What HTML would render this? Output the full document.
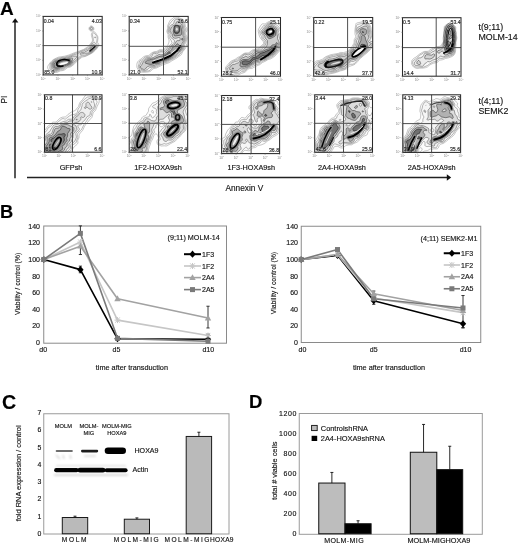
<!DOCTYPE html>
<html><head><meta charset="utf-8"><style>
html,body{margin:0;padding:0;background:#fff;}
body{width:520px;height:544px;overflow:hidden;position:relative;}
svg{position:absolute;left:0;top:0;display:block;will-change:transform;}
text{font-family:"Liberation Sans",sans-serif;stroke:#1a1a1a;stroke-width:0.15px;}
</style></head><body>
<svg width="520" height="544" viewBox="0 0 520 544" font-family="Liberation Sans, sans-serif">
<defs>
<filter id="blur1" x="-50%" y="-50%" width="200%" height="200%"><feGaussianBlur stdDeviation="1"/></filter>
<filter id="blur2" x="-50%" y="-50%" width="200%" height="200%"><feGaussianBlur stdDeviation="2"/></filter>
<filter id="blur05" x="-50%" y="-50%" width="200%" height="200%"><feGaussianBlur stdDeviation="0.5"/></filter>
</defs>
<rect width="520" height="544" fill="#fff"/>
<g id="panelA">
<text x="0.10" y="14.60" font-size="19" text-anchor="start" fill="#000" font-weight="bold" >A</text>
<line x1="15" y1="21.5" x2="15" y2="178.3" stroke="#222" stroke-width="1.5"/>
<polygon points="15.2,18.3 12,22.6 18.4,22.6" fill="#111"/>
<line x1="27" y1="177.5" x2="447.5" y2="177.5" stroke="#222" stroke-width="1.5"/>
<polygon points="451.2,177.4 446.8,174.3 446.8,180.7" fill="#111"/>
<text transform="translate(6.7,99.5) rotate(-90)" font-size="8.3" text-anchor="middle" fill="#111">PI</text>
<text x="244.30" y="191.30" font-size="8.3" text-anchor="middle" fill="#111" font-weight="normal" >Annexin V</text>
<text x="478.50" y="29.80" font-size="8.8" text-anchor="start" fill="#111" font-weight="normal" >t(9;11)</text>
<text x="478.50" y="39.60" font-size="8.8" text-anchor="start" fill="#111" font-weight="normal" >MOLM-14</text>
<text x="478.50" y="104.00" font-size="8.8" text-anchor="start" fill="#111" font-weight="normal" >t(4;11)</text>
<text x="478.50" y="114.00" font-size="8.8" text-anchor="start" fill="#111" font-weight="normal" >SEMK2</text>
<text x="71.00" y="170.30" font-size="7.3" text-anchor="middle" fill="#111" font-weight="normal" >GFPsh</text>
<text x="158.00" y="170.30" font-size="7.3" text-anchor="middle" fill="#111" font-weight="normal" >1F2-HOXA9sh</text>
<text x="251.30" y="170.30" font-size="7.3" text-anchor="middle" fill="#111" font-weight="normal" >1F3-HOXA9sh</text>
<text x="342.00" y="170.30" font-size="7.3" text-anchor="middle" fill="#111" font-weight="normal" >2A4-HOXA9sh</text>
<text x="431.70" y="170.30" font-size="7.3" text-anchor="middle" fill="#111" font-weight="normal" >2A5-HOXA9sh</text>
<clipPath id="cp0"><rect x="43.2" y="16.4" width="59" height="58.5"/></clipPath>
<g clip-path="url(#cp0)">
<path d="M90.4 26.2 91.0 26.0 91.8 26.0 92.6 26.4 93.5 27.4 93.9 28.6 93.8 29.4 93.4 30.3 92.6 31.0 91.8 31.1 90.6 30.9 89.8 30.4 89.3 29.8 89.0 29.0 89.1 27.8 89.5 27.0 90.4 26.2ZM92.8 31.8 93.4 31.7 94.2 31.8 95.4 32.6 97.7 36.2 98.0 38.2 97.5 42.2 97.8 42.9 98.7 43.8 98.9 44.6 98.4 46.2 97.2 48.2 95.4 50.2 93.4 52.1 91.4 53.5 85.8 56.3 82.7 57.0 81.8 57.4 77.5 60.6 74.6 63.8 71.4 66.5 69.8 67.2 68.2 67.4 67.2 67.8 65.4 69.4 64.2 70.1 63.0 70.5 60.2 70.9 57.4 72.3 55.8 72.5 53.0 72.0 51.4 71.5 49.8 70.6 48.4 69.4 47.9 68.6 47.6 67.8 47.7 66.6 48.0 65.8 50.2 62.6 52.2 60.5 53.4 59.5 56.6 57.9 58.6 57.1 64.6 56.2 68.9 55.0 71.4 53.9 75.4 52.4 77.8 51.7 83.4 49.5 87.4 47.0 89.8 44.7 92.2 41.4 92.5 40.2 92.4 39.0 91.4 35.4 91.4 34.6 91.8 33.0 92.8 31.8Z" fill="#fcfcfc" fill-rule="evenodd" stroke="#989898" stroke-width="0.55"/>
<path d="M90.9 26.6 91.4 26.5 92.2 26.8 93.1 27.8 93.3 28.6 93.1 29.4 92.6 30.1 92.2 30.3 91.4 30.4 90.6 30.2 90.0 29.8 89.6 29.0 89.6 28.2 89.9 27.4 90.9 26.6ZM93.3 33.0 93.8 33.0 94.6 33.4 96.6 35.8 97.0 36.6 97.2 38.2 96.6 42.6 96.8 43.4 97.9 44.6 98.1 45.4 97.7 46.6 96.7 48.2 93.4 51.6 91.0 53.3 85.8 55.7 84.6 56.0 82.2 56.2 81.4 56.6 79.4 58.4 77.0 60.0 74.0 63.4 71.4 65.6 69.8 66.3 66.9 67.0 63.8 69.3 62.6 69.7 60.6 69.8 57.4 71.3 55.8 71.7 54.6 71.6 52.6 71.1 51.4 70.6 50.5 69.8 50.0 69.0 49.8 67.8 50.1 64.2 50.7 63.0 51.7 61.8 53.8 59.9 56.2 58.8 58.6 58.0 64.7 57.0 69.1 55.8 75.8 53.0 78.2 52.3 81.0 50.9 83.4 50.1 87.8 47.8 89.8 45.6 92.5 42.2 93.3 41.0 93.4 39.4 92.3 34.6 92.6 33.6 93.3 33.0Z" fill="#f9f9f9" fill-rule="evenodd" stroke="#858585" stroke-width="0.55"/>
<path d="M91.0 27.4 91.8 27.4 92.4 28.2 92.3 29.0 91.8 29.5 91.0 29.4 90.5 29.0 90.4 28.2 91.0 27.4ZM94.6 37.0 95.0 36.7 95.4 36.9 95.5 37.4 95.4 37.9 94.9 37.8 94.6 37.4 94.6 37.0ZM93.6 42.6 94.2 42.3 94.6 42.4 94.9 42.6 95.5 43.8 97.0 45.2 97.2 46.2 96.9 47.0 96.1 48.2 93.8 50.6 91.8 52.3 90.2 53.1 85.8 54.9 84.6 55.1 82.6 55.1 81.4 55.5 80.4 56.2 78.7 57.8 76.4 59.4 72.9 63.4 71.4 64.8 69.8 65.6 67.4 66.1 66.2 66.6 63.4 68.5 60.6 68.9 57.8 70.3 55.8 70.8 54.6 70.8 53.0 70.4 52.2 70.0 51.5 69.4 51.1 68.2 51.1 63.8 52.1 62.2 54.2 60.4 56.2 59.5 61.8 58.1 66.6 57.4 69.1 56.6 72.2 55.3 77.8 53.6 81.0 51.6 83.8 50.8 87.9 49.0 89.0 48.0 91.8 44.1 93.6 42.6Z" fill="#efefef" fill-rule="evenodd" stroke="#6f6f6f" stroke-width="0.55"/>
<path d="M93.2 44.6 94.6 44.8 95.8 45.4 96.2 45.8 96.3 46.6 95.7 47.8 93.6 50.2 92.2 51.4 90.6 52.3 87.4 53.3 84.2 53.3 82.6 53.6 80.6 54.4 80.2 54.4 79.9 54.2 80.2 53.4 81.4 52.6 84.6 52.1 88.2 50.1 89.4 49.0 91.8 45.5 92.6 44.8 93.2 44.6ZM72.3 56.2 76.2 56.1 77.0 56.5 77.1 57.0 73.8 60.4 72.0 63.4 70.6 64.5 66.6 65.8 63.0 67.5 60.6 68.0 58.6 69.2 57.4 69.7 55.8 70.0 54.6 70.0 53.1 69.4 52.4 68.6 52.1 67.8 51.9 63.8 52.6 62.5 54.2 61.1 55.8 60.4 58.6 59.8 61.8 58.8 67.0 58.2 69.4 57.4 72.3 56.2Z" fill="#dddddd" fill-rule="evenodd" stroke="#585858" stroke-width="0.55"/>
<path d="M92.9 46.2 93.8 46.0 94.8 46.2 95.1 46.6 94.9 47.4 93.1 49.8 92.2 50.7 91.0 51.3 89.6 51.4 89.4 51.0 89.5 50.6 91.2 47.8 92.2 46.6 92.9 46.2ZM70.5 58.2 72.2 57.9 72.5 58.2 72.6 58.6 71.9 62.2 71.1 63.4 70.2 64.0 60.2 67.3 58.2 68.6 57.4 68.9 55.0 69.0 54.2 68.8 53.5 68.2 53.1 67.0 52.7 63.8 53.4 62.6 54.6 61.7 56.2 61.1 62.2 59.4 63.4 59.2 66.2 59.2 70.5 58.2Z" fill="#c2c2c2" fill-rule="evenodd" stroke="#404040" stroke-width="0.55"/>
<path d="M68.2 59.8 69.4 59.5 70.2 59.6 71.0 60.2 71.2 61.0 71.0 62.2 70.6 62.8 69.8 63.4 67.8 64.0 65.8 64.8 63.1 65.4 60.9 66.2 59.8 66.6 57.4 68.0 55.4 67.9 54.6 67.5 54.3 67.0 53.9 64.6 53.9 63.8 54.5 63.0 55.4 62.4 57.4 61.6 62.6 60.1 63.8 60.0 66.6 60.2 68.2 59.8Z" fill="#9e9e9e" fill-rule="evenodd" stroke="#282828" stroke-width="0.55"/>
<path d="M68.5 61.0 69.4 60.8 69.8 61.0 70.0 61.4 69.8 62.1 69.0 62.5 67.8 62.7 65.8 64.0 65.0 64.2 62.6 64.2 60.6 65.3 57.8 66.3 57.0 66.3 56.6 65.8 56.4 64.2 56.6 63.4 57.4 62.6 58.6 62.0 59.8 61.7 62.2 61.5 63.8 61.1 67.4 61.6 68.5 61.0Z" fill="#707070" fill-rule="evenodd" stroke="#101010" stroke-width="0.55"/>
<ellipse cx="63.4" cy="63.2" rx="5.8" ry="2.2" transform="rotate(-15 63.4 63.2)" fill="#bbb" stroke="#666" stroke-width="1"/>
<path d="M69,60.2 Q63,58.6 58.5,61 Q55.5,63.5 57.6,65.8 Q60,66.8 63,66" fill="none" stroke="#000" stroke-width="1.6" stroke-linecap="round" stroke-linejoin="round"/>
<ellipse cx="63.8" cy="63.4" rx="4.3" ry="0.9" transform="rotate(-15 63.8 63.4)" fill="#fff" stroke="none" stroke-width="0"/>
<path d="M90,51 L95,46.5" fill="none" stroke="#111" stroke-width="1.4" stroke-linecap="round" stroke-linejoin="round"/>
<ellipse cx="91.4" cy="28.6" rx="1.3" ry="1.3" transform="rotate(0 91.4 28.6)" fill="none" stroke="#999" stroke-width="0.6"/>
</g>
<line x1="43.2" y1="45.6" x2="102.2" y2="45.6" stroke="#505050" stroke-width="1"/>
<line x1="77.7" y1="16.4" x2="77.7" y2="74.9" stroke="#505050" stroke-width="1"/>
<rect x="43.2" y="16.4" width="59" height="58.5" fill="none" stroke="#2a2a2a" stroke-width="1.05"/>
<text x="43.80" y="22.90" font-size="5.2" text-anchor="start" fill="#333" font-weight="normal" >0.04</text>
<text x="101.90" y="22.90" font-size="5.2" text-anchor="end" fill="#333" font-weight="normal" >4.03</text>
<text x="44.20" y="73.50" font-size="5.2" text-anchor="start" fill="#333" font-weight="normal" >85.0</text>
<text x="101.70" y="73.50" font-size="5.2" text-anchor="end" fill="#333" font-weight="normal" >10.9</text>
<text x="41.00" y="75.90" font-size="3.3" text-anchor="end" fill="#888" style="stroke:none">10<tspan dy="-1.2" font-size="2.2">0</tspan></text>
<text x="43.20" y="79.90" font-size="3.3" text-anchor="middle" fill="#888" style="stroke:none">10<tspan dy="-1.2" font-size="2.2">0</tspan></text>
<line x1="43.20" y1="74.9" x2="43.20" y2="76.10000000000001" stroke="#666" stroke-width="0.5"/>
<line x1="43.2" y1="74.90" x2="42.0" y2="74.90" stroke="#666" stroke-width="0.5"/>
<text x="41.00" y="61.28" font-size="3.3" text-anchor="end" fill="#888" style="stroke:none">10<tspan dy="-1.2" font-size="2.2">1</tspan></text>
<text x="57.95" y="79.90" font-size="3.3" text-anchor="middle" fill="#888" style="stroke:none">10<tspan dy="-1.2" font-size="2.2">1</tspan></text>
<line x1="57.95" y1="74.9" x2="57.95" y2="76.10000000000001" stroke="#666" stroke-width="0.5"/>
<line x1="43.2" y1="60.28" x2="42.0" y2="60.28" stroke="#666" stroke-width="0.5"/>
<text x="41.00" y="46.65" font-size="3.3" text-anchor="end" fill="#888" style="stroke:none">10<tspan dy="-1.2" font-size="2.2">2</tspan></text>
<text x="72.70" y="79.90" font-size="3.3" text-anchor="middle" fill="#888" style="stroke:none">10<tspan dy="-1.2" font-size="2.2">2</tspan></text>
<line x1="72.70" y1="74.9" x2="72.70" y2="76.10000000000001" stroke="#666" stroke-width="0.5"/>
<line x1="43.2" y1="45.65" x2="42.0" y2="45.65" stroke="#666" stroke-width="0.5"/>
<text x="41.00" y="32.03" font-size="3.3" text-anchor="end" fill="#888" style="stroke:none">10<tspan dy="-1.2" font-size="2.2">3</tspan></text>
<text x="87.45" y="79.90" font-size="3.3" text-anchor="middle" fill="#888" style="stroke:none">10<tspan dy="-1.2" font-size="2.2">3</tspan></text>
<line x1="87.45" y1="74.9" x2="87.45" y2="76.10000000000001" stroke="#666" stroke-width="0.5"/>
<line x1="43.2" y1="31.03" x2="42.0" y2="31.03" stroke="#666" stroke-width="0.5"/>
<text x="41.00" y="17.40" font-size="3.3" text-anchor="end" fill="#888" style="stroke:none">10<tspan dy="-1.2" font-size="2.2">4</tspan></text>
<text x="102.20" y="79.90" font-size="3.3" text-anchor="middle" fill="#888" style="stroke:none">10<tspan dy="-1.2" font-size="2.2">4</tspan></text>
<line x1="102.20" y1="74.9" x2="102.20" y2="76.10000000000001" stroke="#666" stroke-width="0.5"/>
<line x1="43.2" y1="16.40" x2="42.0" y2="16.40" stroke="#666" stroke-width="0.5"/>
<clipPath id="cp1"><rect x="129.2" y="16.4" width="59" height="58.5"/></clipPath>
<g clip-path="url(#cp1)">
<path d="M175.9 16.6 177.0 16.7 179.0 17.8 182.2 19.0 183.4 19.9 184.1 21.0 184.9 23.0 185.4 26.3 186.7 28.2 187.0 29.0 186.9 30.6 185.8 32.6 185.7 33.4 185.8 34.3 186.8 36.6 187.1 37.8 186.9 39.4 185.8 43.0 185.8 43.8 186.8 45.0 186.9 45.4 185.0 49.0 182.6 51.8 181.4 54.6 180.6 55.3 179.0 56.3 177.0 57.9 171.4 61.1 169.3 62.6 162.4 65.0 156.6 68.0 153.6 68.6 152.6 69.3 151.0 70.9 149.8 71.6 147.8 72.0 144.2 72.3 141.0 72.1 139.8 71.7 139.0 70.9 138.0 69.4 137.1 67.8 136.8 66.6 136.8 64.6 137.1 63.0 137.7 61.8 138.7 60.6 141.0 59.0 142.8 57.4 144.2 56.4 145.8 55.8 148.9 55.4 151.0 53.4 152.6 52.4 153.8 51.9 156.7 51.4 159.8 49.7 162.6 49.7 163.4 49.4 165.4 47.5 167.0 46.4 167.6 45.8 168.9 42.2 169.1 41.0 168.9 39.8 168.1 37.4 168.1 34.6 166.9 31.8 166.9 31.0 167.7 28.2 167.6 25.8 169.3 21.8 170.2 20.2 172.2 18.8 173.8 17.4 175.0 16.8 175.9 16.6Z" fill="#fcfcfc" fill-rule="evenodd" stroke="#989898" stroke-width="0.55"/>
<path d="M175.3 18.2 176.2 18.0 177.0 18.1 180.2 19.2 181.2 19.8 183.6 23.0 184.1 24.2 184.5 27.0 185.6 29.0 185.7 30.2 184.8 32.2 184.6 33.4 185.0 35.0 186.0 37.4 186.2 38.6 185.9 39.8 184.3 43.8 184.2 44.6 184.6 47.4 184.0 49.0 180.0 54.2 179.1 55.0 173.8 58.7 170.7 60.2 168.2 61.9 163.0 63.4 156.2 67.2 152.6 67.9 151.5 68.6 150.2 70.2 149.0 70.8 143.8 71.5 142.2 71.1 139.8 69.9 138.8 68.6 138.4 67.4 138.3 66.2 139.0 63.7 139.2 62.2 139.9 61.0 142.6 59.4 144.0 57.8 145.0 57.0 146.2 56.6 148.6 56.6 149.7 56.2 150.2 55.8 151.7 53.8 153.0 52.9 154.2 52.4 157.0 52.3 159.8 50.7 162.6 50.7 163.8 50.4 164.6 49.8 166.2 48.2 168.6 46.9 170.0 45.0 171.9 43.4 172.0 42.6 171.0 40.2 169.3 37.8 169.1 36.6 169.3 34.6 167.9 32.2 167.7 31.0 168.5 28.2 168.5 26.2 169.4 24.3 171.6 21.4 174.2 18.9 175.3 18.2Z" fill="#f7f7f7" fill-rule="evenodd" stroke="#808080" stroke-width="0.55"/>
<path d="M175.3 19.8 176.2 19.4 177.0 19.5 179.0 20.0 179.9 20.6 182.7 23.8 183.5 27.0 184.3 29.4 184.4 30.2 183.8 32.6 183.8 33.8 184.1 35.4 185.1 37.8 185.2 39.0 184.9 40.2 183.3 43.8 183.2 45.0 183.6 47.4 183.3 48.6 182.7 49.4 181.0 51.4 177.0 55.3 173.4 58.0 167.8 60.8 165.4 61.8 162.6 62.2 160.2 64.1 157.8 65.1 155.4 66.4 149.8 67.5 148.7 68.2 147.6 69.4 145.4 70.4 144.2 70.6 143.4 70.5 140.6 69.1 139.7 68.2 139.3 66.6 139.4 65.8 140.5 63.8 140.8 62.6 141.3 61.8 143.6 60.2 145.4 58.1 146.2 57.7 149.0 57.6 150.7 57.0 151.8 56.2 152.7 54.2 153.8 53.4 154.6 53.3 156.6 53.8 159.8 51.9 161.0 51.7 163.0 51.9 164.2 51.5 167.0 49.1 169.0 48.1 170.8 45.8 173.0 44.3 173.8 43.4 174.4 41.8 174.4 40.6 173.8 39.8 170.8 37.4 170.6 36.6 171.0 35.4 171.0 34.6 170.5 33.8 168.9 32.2 168.6 31.0 170.0 26.2 171.0 25.2 173.0 24.2 173.8 23.5 174.3 21.0 175.3 19.8Z" fill="#e9e9e9" fill-rule="evenodd" stroke="#666666" stroke-width="0.55"/>
<path d="M176.6 21.8 177.0 21.6 177.8 21.7 180.2 22.9 181.4 23.9 182.0 25.0 183.0 29.4 182.9 35.0 183.2 36.2 184.0 37.8 184.2 39.0 183.8 40.6 182.1 43.4 181.8 44.2 182.6 47.4 182.5 48.2 181.7 49.4 180.6 50.7 178.5 52.2 176.7 54.2 173.3 57.0 169.0 59.3 165.4 60.9 162.2 61.2 161.4 61.7 160.3 63.0 159.4 63.6 156.6 64.4 154.6 65.4 152.2 65.9 149.4 66.0 147.8 66.5 146.9 67.0 145.4 68.9 144.6 69.4 143.4 69.4 141.1 68.2 140.7 67.8 140.4 67.0 140.6 66.0 142.1 64.6 142.6 63.0 143.0 62.2 146.2 59.2 147.0 58.9 149.4 58.6 153.4 57.6 155.4 56.3 157.0 55.7 159.0 54.4 161.0 54.9 162.3 54.6 164.8 53.0 167.4 50.5 169.8 49.0 171.4 46.5 173.8 45.1 174.6 44.3 176.6 40.9 177.4 40.5 179.0 40.7 179.8 40.4 180.0 39.8 180.1 38.6 179.8 37.8 179.4 37.5 178.6 37.5 175.8 38.3 174.2 38.1 173.0 37.4 172.6 36.6 172.6 34.6 172.3 33.8 170.2 31.9 169.8 31.0 170.0 30.2 171.5 27.0 172.6 26.0 174.6 25.1 175.2 24.6 175.7 23.8 176.6 21.8Z" fill="#cecece" fill-rule="evenodd" stroke="#4a4a4a" stroke-width="0.55"/>
<path d="M179.5 25.8 179.8 25.5 180.2 25.5 180.6 25.9 181.5 29.4 181.7 33.0 181.4 34.6 181.0 35.1 180.6 35.2 175.0 36.0 174.6 35.9 174.3 35.4 173.2 31.8 173.3 31.0 173.6 30.2 174.6 28.3 175.8 27.8 178.2 27.3 179.5 25.8ZM181.8 38.6 182.2 38.2 182.6 38.3 183.0 39.0 182.8 39.8 182.2 40.3 181.7 39.8 181.8 38.6ZM176.8 44.2 177.4 43.8 177.8 43.8 178.6 45.0 181.0 46.3 181.5 47.0 181.4 48.2 180.6 49.4 179.8 50.2 179.0 50.7 176.3 51.8 175.1 53.4 172.6 56.2 169.8 58.0 165.0 60.2 164.2 60.3 162.2 60.1 161.4 60.3 160.6 60.9 159.4 62.5 158.2 63.1 154.2 63.7 151.0 64.4 149.0 64.2 145.4 63.2 145.2 62.6 145.6 61.8 146.3 61.0 147.4 60.2 149.8 59.8 151.8 59.2 154.2 58.8 156.2 57.7 159.0 56.6 162.2 56.0 164.9 54.6 166.0 53.8 167.8 52.0 170.6 50.7 171.3 50.2 171.8 49.4 172.2 47.9 172.6 47.4 174.6 46.5 176.8 44.2Z" fill="#a6a6a6" fill-rule="evenodd" stroke="#2d2d2d" stroke-width="0.55"/>
<path d="M176.5 30.2 177.0 30.3 177.4 30.9 177.9 32.6 177.6 33.4 176.6 33.7 175.8 33.5 175.4 33.2 175.0 32.2 175.1 31.4 175.4 30.9 175.8 30.4 176.5 30.2ZM178.1 48.6 178.5 48.6 178.2 48.7 178.1 48.6ZM168.4 53.0 169.4 52.6 170.2 52.7 170.7 53.0 171.2 53.8 171.2 55.0 169.7 57.0 168.6 57.7 166.9 58.2 164.6 59.4 163.4 59.3 162.0 58.6 161.7 58.2 161.8 57.8 162.2 57.4 163.8 56.3 166.2 55.1 168.4 53.0ZM156.3 60.2 157.4 59.9 158.2 60.1 158.6 60.6 158.5 61.4 158.2 61.8 157.4 62.1 156.1 61.8 155.6 61.4 155.5 61.0 155.7 60.6 156.3 60.2Z" fill="#707070" fill-rule="evenodd" stroke="#101010" stroke-width="0.55"/>
<path d="M153,62.5 L162,59.5 L171,55.5 L177,50.5 L180.5,46" fill="none" stroke="#000" stroke-width="2.0" stroke-linecap="round" stroke-linejoin="round"/>
<path d="M153,61 L162,58 L170.5,54 L176,49.5" fill="none" stroke="#fff" stroke-width="0.7" stroke-linecap="round" stroke-linejoin="round"/>
<ellipse cx="176.8" cy="29.2" rx="2.8" ry="3.8" transform="rotate(0 176.8 29.2)" fill="#888" stroke="#444" stroke-width="1.3"/>
<ellipse cx="176.8" cy="29.2" rx="1.0" ry="1.6" transform="rotate(0 176.8 29.2)" fill="#ddd" stroke="none" stroke-width="0"/>
</g>
<line x1="129.2" y1="46.3" x2="188.2" y2="46.3" stroke="#505050" stroke-width="1"/>
<line x1="163.5" y1="16.4" x2="163.5" y2="74.9" stroke="#505050" stroke-width="1"/>
<rect x="129.2" y="16.4" width="59" height="58.5" fill="none" stroke="#2a2a2a" stroke-width="1.05"/>
<text x="129.80" y="22.90" font-size="5.2" text-anchor="start" fill="#333" font-weight="normal" >0.34</text>
<text x="187.90" y="22.90" font-size="5.2" text-anchor="end" fill="#333" font-weight="normal" >26.6</text>
<text x="130.20" y="73.50" font-size="5.2" text-anchor="start" fill="#333" font-weight="normal" >21.0</text>
<text x="187.70" y="73.50" font-size="5.2" text-anchor="end" fill="#333" font-weight="normal" >52.1</text>
<text x="127.00" y="75.90" font-size="3.3" text-anchor="end" fill="#888" style="stroke:none">10<tspan dy="-1.2" font-size="2.2">0</tspan></text>
<text x="129.20" y="79.90" font-size="3.3" text-anchor="middle" fill="#888" style="stroke:none">10<tspan dy="-1.2" font-size="2.2">0</tspan></text>
<line x1="129.20" y1="74.9" x2="129.20" y2="76.10000000000001" stroke="#666" stroke-width="0.5"/>
<line x1="129.2" y1="74.90" x2="127.99999999999999" y2="74.90" stroke="#666" stroke-width="0.5"/>
<text x="127.00" y="61.28" font-size="3.3" text-anchor="end" fill="#888" style="stroke:none">10<tspan dy="-1.2" font-size="2.2">1</tspan></text>
<text x="143.95" y="79.90" font-size="3.3" text-anchor="middle" fill="#888" style="stroke:none">10<tspan dy="-1.2" font-size="2.2">1</tspan></text>
<line x1="143.95" y1="74.9" x2="143.95" y2="76.10000000000001" stroke="#666" stroke-width="0.5"/>
<line x1="129.2" y1="60.28" x2="127.99999999999999" y2="60.28" stroke="#666" stroke-width="0.5"/>
<text x="127.00" y="46.65" font-size="3.3" text-anchor="end" fill="#888" style="stroke:none">10<tspan dy="-1.2" font-size="2.2">2</tspan></text>
<text x="158.70" y="79.90" font-size="3.3" text-anchor="middle" fill="#888" style="stroke:none">10<tspan dy="-1.2" font-size="2.2">2</tspan></text>
<line x1="158.70" y1="74.9" x2="158.70" y2="76.10000000000001" stroke="#666" stroke-width="0.5"/>
<line x1="129.2" y1="45.65" x2="127.99999999999999" y2="45.65" stroke="#666" stroke-width="0.5"/>
<text x="127.00" y="32.03" font-size="3.3" text-anchor="end" fill="#888" style="stroke:none">10<tspan dy="-1.2" font-size="2.2">3</tspan></text>
<text x="173.45" y="79.90" font-size="3.3" text-anchor="middle" fill="#888" style="stroke:none">10<tspan dy="-1.2" font-size="2.2">3</tspan></text>
<line x1="173.45" y1="74.9" x2="173.45" y2="76.10000000000001" stroke="#666" stroke-width="0.5"/>
<line x1="129.2" y1="31.03" x2="127.99999999999999" y2="31.03" stroke="#666" stroke-width="0.5"/>
<text x="127.00" y="17.40" font-size="3.3" text-anchor="end" fill="#888" style="stroke:none">10<tspan dy="-1.2" font-size="2.2">4</tspan></text>
<text x="188.20" y="79.90" font-size="3.3" text-anchor="middle" fill="#888" style="stroke:none">10<tspan dy="-1.2" font-size="2.2">4</tspan></text>
<line x1="188.20" y1="74.9" x2="188.20" y2="76.10000000000001" stroke="#666" stroke-width="0.5"/>
<line x1="129.2" y1="16.40" x2="127.99999999999999" y2="16.40" stroke="#666" stroke-width="0.5"/>
<clipPath id="cp2"><rect x="221.5" y="17.5" width="59" height="58.7"/></clipPath>
<g clip-path="url(#cp2)">
<path d="M270.2 21.3 271.7 21.5 273.7 22.7 275.7 22.6 276.5 22.8 278.1 24.2 280.2 25.3 280.8 26.1 280.9 27.3 281.3 28.2 281.3 45.4 280.4 49.3 279.6 50.9 274.9 56.1 271.7 58.3 270.5 58.9 267.8 59.7 265.7 61.1 262.5 62.5 259.7 64.7 255.7 66.3 252.5 68.2 251.7 68.5 249.7 68.6 248.7 68.9 247.7 69.6 245.3 71.9 244.1 72.6 241.7 73.3 238.5 74.9 237.7 75.1 235.7 74.9 233.3 76.0 228.9 75.0 227.7 74.4 227.1 73.7 225.5 69.3 225.4 67.7 226.1 66.6 230.1 61.9 231.7 60.8 235.2 59.3 237.7 57.4 239.7 56.5 243.7 53.5 245.3 53.0 248.3 52.9 249.3 52.4 251.7 50.5 252.9 49.9 256.5 49.1 258.3 48.5 259.3 47.7 260.5 46.4 262.9 44.5 263.6 43.3 263.5 42.1 263.1 41.3 261.0 38.9 259.5 36.5 258.3 31.7 258.2 30.9 258.4 29.7 258.9 28.5 260.9 25.3 261.9 24.1 262.5 23.8 264.5 23.9 265.3 23.8 268.1 21.9 270.2 21.3Z" fill="#fcfcfc" fill-rule="evenodd" stroke="#989898" stroke-width="0.55"/>
<path d="M269.7 22.5 270.9 22.6 273.0 23.7 276.1 24.7 278.5 26.5 279.7 28.4 281.3 30.2 281.3 31.4 280.2 32.9 279.9 33.7 280.1 34.8 280.9 36.9 281.3 38.6 281.3 42.6 280.4 44.9 279.8 47.7 279.2 49.7 277.8 51.7 274.5 55.2 270.9 57.6 268.5 58.5 265.3 60.3 262.9 61.0 262.1 61.5 260.5 63.1 259.3 63.8 255.7 64.8 251.7 67.1 249.3 67.6 248.2 68.1 247.0 68.9 245.3 70.8 244.5 71.3 243.7 71.6 241.5 71.7 239.7 73.1 238.5 73.7 235.3 73.7 232.9 74.6 232.1 74.6 229.7 74.0 228.5 73.5 227.9 72.9 227.2 71.3 226.4 69.3 226.3 68.1 226.7 67.3 228.9 65.3 230.1 63.3 231.3 62.1 232.5 61.4 236.9 59.5 244.1 54.0 245.3 53.6 247.7 53.8 248.6 53.7 250.3 52.9 253.3 50.6 257.3 49.7 259.3 49.0 263.9 44.9 264.7 43.3 264.8 41.7 264.3 40.9 262.5 39.3 262.0 38.5 261.3 36.2 260.2 33.7 259.7 31.7 259.7 30.5 260.1 29.6 261.8 28.1 262.7 26.5 263.3 25.8 265.7 24.9 268.1 23.0 269.7 22.5Z" fill="#f7f7f7" fill-rule="evenodd" stroke="#808080" stroke-width="0.55"/>
<path d="M268.9 23.7 270.1 23.5 270.9 23.7 274.5 25.6 277.5 27.7 278.2 28.5 278.8 29.7 278.8 30.5 278.1 32.1 278.1 33.3 279.1 36.1 279.6 38.5 280.4 40.5 280.5 41.3 277.9 49.7 277.1 51.3 276.2 52.5 274.1 54.4 270.5 56.6 268.1 57.8 266.1 59.2 265.3 59.5 262.3 60.1 261.7 60.5 260.1 62.2 259.3 62.6 257.3 62.7 255.7 63.3 251.3 65.8 247.3 67.7 244.5 69.9 243.3 70.1 241.3 69.8 240.5 70.2 238.9 71.8 237.3 72.3 233.7 72.5 231.3 72.2 230.1 72.3 228.9 71.9 228.2 70.9 227.7 69.7 227.5 68.9 227.6 68.1 228.3 67.3 229.7 66.0 231.1 63.7 232.1 62.8 234.9 61.5 237.9 60.9 239.7 58.5 244.5 54.6 245.7 54.3 248.1 54.9 248.9 54.8 252.0 53.3 253.7 51.7 254.5 51.2 260.9 49.7 262.0 48.9 264.7 45.7 265.3 44.9 265.8 43.7 266.1 42.5 266.0 41.3 265.6 40.5 264.0 39.3 263.3 38.5 263.0 37.7 263.0 35.7 261.3 32.9 261.1 32.1 261.1 31.3 261.5 30.5 262.9 29.2 264.1 27.3 266.1 26.0 267.7 24.4 268.9 23.7Z" fill="#e9e9e9" fill-rule="evenodd" stroke="#666666" stroke-width="0.55"/>
<path d="M268.9 24.9 269.7 24.7 270.5 24.8 272.1 25.5 276.1 28.1 277.2 29.3 277.2 30.1 276.7 32.1 276.7 33.3 277.5 36.1 277.5 38.5 278.9 41.7 279.0 42.9 278.5 44.5 276.9 48.1 276.4 50.5 275.1 52.5 273.7 53.7 267.8 56.9 265.7 58.5 264.9 58.8 262.5 58.9 261.7 59.2 259.3 61.3 256.9 61.5 256.1 61.8 249.3 65.9 244.5 68.3 243.7 68.4 241.7 68.0 240.5 68.2 239.7 68.6 237.8 70.5 236.1 70.9 234.1 71.1 232.9 70.9 229.7 69.5 229.3 68.9 229.4 68.1 232.1 64.9 232.9 64.4 234.5 64.4 236.5 63.4 238.5 62.9 239.2 62.1 240.5 59.3 241.7 58.1 242.5 57.7 244.5 57.3 245.3 56.1 245.7 56.0 247.3 57.1 248.5 57.1 252.9 54.4 254.8 52.5 255.7 51.9 256.9 51.4 259.7 51.2 261.7 50.7 263.4 49.7 264.8 48.5 266.6 46.1 267.2 44.9 267.5 43.3 267.5 40.9 267.2 40.1 265.1 38.1 264.8 36.1 262.6 32.9 262.4 31.7 262.8 30.9 264.0 29.7 265.2 28.1 266.7 26.9 268.1 25.5 268.9 24.9Z" fill="#cecece" fill-rule="evenodd" stroke="#4a4a4a" stroke-width="0.55"/>
<path d="M269.3 26.5 270.5 26.4 272.1 27.0 275.3 29.0 275.8 29.7 276.0 30.5 275.5 32.9 275.5 34.9 275.3 35.7 274.5 36.4 272.5 37.6 270.9 38.3 269.7 38.6 268.5 38.3 267.8 37.7 266.8 35.7 264.2 33.3 263.8 32.5 263.8 32.1 264.2 31.3 266.5 29.3 268.1 27.3 269.3 26.5ZM276.1 42.9 276.5 42.6 277.2 42.9 277.4 43.3 277.3 44.0 275.4 46.9 275.3 47.7 275.3 49.7 274.9 50.9 274.1 52.0 273.0 52.9 270.1 54.7 267.3 56.1 265.3 57.7 264.5 57.9 262.9 57.7 262.1 57.8 260.6 58.5 258.5 60.0 256.3 60.5 254.4 61.3 251.3 63.7 247.3 65.8 244.5 66.7 243.3 66.9 240.9 66.5 240.2 66.1 239.9 65.3 240.7 61.7 241.0 60.9 241.7 60.0 242.9 59.6 248.1 59.3 248.9 59.1 249.7 58.6 251.3 56.9 254.9 54.9 257.1 52.9 259.7 52.3 262.5 51.5 266.1 49.6 268.4 48.9 269.2 48.5 270.1 47.7 271.5 45.7 272.1 45.1 272.9 44.8 274.9 44.8 275.6 44.1 276.1 42.9ZM232.3 68.1 233.2 68.1 233.5 68.5 233.4 68.9 232.9 69.0 232.5 68.8 232.2 68.5 232.3 68.1Z" fill="#a6a6a6" fill-rule="evenodd" stroke="#2d2d2d" stroke-width="0.55"/>
<path d="M269.7 28.5 270.5 28.2 271.7 28.6 274.1 30.0 274.6 30.9 273.8 34.5 273.4 35.3 272.5 35.9 270.1 36.8 269.3 36.6 268.9 36.2 268.5 34.9 268.5 34.1 268.9 33.3 270.8 32.1 271.0 31.7 270.7 30.9 269.5 29.7 269.4 28.9 269.7 28.5ZM271.6 48.5 272.1 48.3 272.9 48.3 273.6 48.9 273.8 49.7 273.3 50.8 269.7 53.6 265.7 55.8 264.5 56.1 263.3 55.7 262.5 55.7 258.5 58.3 257.3 58.7 255.7 58.8 253.3 59.9 252.3 60.5 250.9 62.5 246.9 64.6 245.7 64.8 243.7 64.8 242.9 64.6 242.3 64.1 242.1 63.3 242.0 62.5 242.3 61.7 242.9 61.2 245.3 60.7 248.5 61.1 249.7 60.9 250.9 60.1 251.9 58.5 252.8 57.7 253.7 57.5 254.9 57.6 255.7 57.5 257.3 56.3 259.0 54.5 260.1 53.7 261.7 53.0 264.1 52.3 266.5 51.1 269.1 50.1 271.6 48.5Z" fill="#707070" fill-rule="evenodd" stroke="#101010" stroke-width="0.55"/>
<path d="M261,59.5 L268,55 L273,50.5 L275.5,46.5" fill="none" stroke="#000" stroke-width="2.0" stroke-linecap="round" stroke-linejoin="round"/>
<ellipse cx="270" cy="31.8" rx="3.6" ry="2.8" transform="rotate(-25 270 31.8)" fill="#888" stroke="#000" stroke-width="1.7"/>
<ellipse cx="270.6" cy="31.6" rx="1.6" ry="1.0" transform="rotate(-25 270.6 31.6)" fill="#fff" stroke="none" stroke-width="0"/>
</g>
<line x1="221.5" y1="47.2" x2="280.5" y2="47.2" stroke="#505050" stroke-width="1"/>
<line x1="255.6" y1="17.5" x2="255.6" y2="76.2" stroke="#505050" stroke-width="1"/>
<rect x="221.5" y="17.5" width="59" height="58.7" fill="none" stroke="#2a2a2a" stroke-width="1.05"/>
<text x="222.10" y="24.00" font-size="5.2" text-anchor="start" fill="#333" font-weight="normal" >0.75</text>
<text x="280.20" y="24.00" font-size="5.2" text-anchor="end" fill="#333" font-weight="normal" >25.1</text>
<text x="222.50" y="74.80" font-size="5.2" text-anchor="start" fill="#333" font-weight="normal" >28.2</text>
<text x="280.00" y="74.80" font-size="5.2" text-anchor="end" fill="#333" font-weight="normal" >46.0</text>
<text x="219.30" y="77.20" font-size="3.3" text-anchor="end" fill="#888" style="stroke:none">10<tspan dy="-1.2" font-size="2.2">0</tspan></text>
<text x="221.50" y="81.20" font-size="3.3" text-anchor="middle" fill="#888" style="stroke:none">10<tspan dy="-1.2" font-size="2.2">0</tspan></text>
<line x1="221.50" y1="76.2" x2="221.50" y2="77.4" stroke="#666" stroke-width="0.5"/>
<line x1="221.5" y1="76.20" x2="220.3" y2="76.20" stroke="#666" stroke-width="0.5"/>
<text x="219.30" y="62.53" font-size="3.3" text-anchor="end" fill="#888" style="stroke:none">10<tspan dy="-1.2" font-size="2.2">1</tspan></text>
<text x="236.25" y="81.20" font-size="3.3" text-anchor="middle" fill="#888" style="stroke:none">10<tspan dy="-1.2" font-size="2.2">1</tspan></text>
<line x1="236.25" y1="76.2" x2="236.25" y2="77.4" stroke="#666" stroke-width="0.5"/>
<line x1="221.5" y1="61.53" x2="220.3" y2="61.53" stroke="#666" stroke-width="0.5"/>
<text x="219.30" y="47.85" font-size="3.3" text-anchor="end" fill="#888" style="stroke:none">10<tspan dy="-1.2" font-size="2.2">2</tspan></text>
<text x="251.00" y="81.20" font-size="3.3" text-anchor="middle" fill="#888" style="stroke:none">10<tspan dy="-1.2" font-size="2.2">2</tspan></text>
<line x1="251.00" y1="76.2" x2="251.00" y2="77.4" stroke="#666" stroke-width="0.5"/>
<line x1="221.5" y1="46.85" x2="220.3" y2="46.85" stroke="#666" stroke-width="0.5"/>
<text x="219.30" y="33.17" font-size="3.3" text-anchor="end" fill="#888" style="stroke:none">10<tspan dy="-1.2" font-size="2.2">3</tspan></text>
<text x="265.75" y="81.20" font-size="3.3" text-anchor="middle" fill="#888" style="stroke:none">10<tspan dy="-1.2" font-size="2.2">3</tspan></text>
<line x1="265.75" y1="76.2" x2="265.75" y2="77.4" stroke="#666" stroke-width="0.5"/>
<line x1="221.5" y1="32.17" x2="220.3" y2="32.17" stroke="#666" stroke-width="0.5"/>
<text x="219.30" y="18.50" font-size="3.3" text-anchor="end" fill="#888" style="stroke:none">10<tspan dy="-1.2" font-size="2.2">4</tspan></text>
<text x="280.50" y="81.20" font-size="3.3" text-anchor="middle" fill="#888" style="stroke:none">10<tspan dy="-1.2" font-size="2.2">4</tspan></text>
<line x1="280.50" y1="76.2" x2="280.50" y2="77.4" stroke="#666" stroke-width="0.5"/>
<line x1="221.5" y1="17.50" x2="220.3" y2="17.50" stroke="#666" stroke-width="0.5"/>
<clipPath id="cp3"><rect x="313.7" y="17.5" width="59" height="58.7"/></clipPath>
<g clip-path="url(#cp3)">
<path d="M364.9 20.5 365.9 20.4 366.9 20.9 367.9 22.9 369.5 24.4 370.1 25.3 371.0 27.7 371.4 30.9 372.3 35.5 372.7 36.5 373.5 37.4 373.5 46.0 368.7 51.3 366.7 53.2 364.3 54.9 362.3 56.9 359.6 58.9 357.9 61.3 355.1 64.2 353.5 65.0 349.5 66.4 348.3 67.2 346.3 69.0 343.1 70.3 340.3 70.9 336.7 72.3 332.7 73.4 329.9 73.8 327.1 74.7 325.9 74.9 319.9 74.6 319.1 74.4 317.5 73.3 315.8 72.5 314.7 72.4 312.7 72.5 312.7 64.4 314.3 63.2 315.9 61.2 316.7 60.9 319.2 60.5 322.3 59.3 325.5 56.8 330.7 54.7 338.3 53.4 340.7 52.4 343.5 52.6 346.5 51.7 347.9 50.9 351.2 47.7 352.1 46.5 353.9 43.3 354.1 42.5 354.2 39.7 355.7 36.9 355.6 36.1 355.0 34.1 354.9 30.5 355.4 26.9 356.0 23.7 356.7 23.0 361.0 22.1 364.9 20.5Z" fill="#fcfcfc" fill-rule="evenodd" stroke="#989898" stroke-width="0.55"/>
<path d="M363.3 22.5 364.7 22.1 365.5 22.2 367.1 23.7 368.7 24.8 369.3 25.7 370.1 28.1 371.3 36.1 372.3 38.6 373.5 39.8 373.5 45.0 366.9 52.1 363.9 54.4 361.9 56.3 359.1 58.4 354.3 63.7 352.7 64.3 350.7 64.3 349.9 64.5 348.3 65.8 346.2 68.1 344.7 69.0 342.3 69.6 339.9 70.0 337.5 71.2 333.5 72.4 332.3 72.6 329.5 72.8 327.1 73.8 325.9 74.0 320.7 73.2 318.7 72.3 315.9 71.3 312.7 70.8 312.7 66.5 313.9 64.9 317.1 62.2 322.3 60.6 323.7 59.7 326.3 57.4 331.1 55.7 333.5 55.3 335.9 54.6 338.3 54.3 340.7 53.5 343.1 53.8 343.9 53.7 347.1 52.8 347.9 52.3 350.3 49.4 352.5 47.7 353.2 46.9 355.1 42.9 355.2 40.1 357.0 37.3 357.2 36.5 357.1 35.5 356.0 32.1 355.7 30.5 356.3 26.9 356.7 25.3 357.5 24.5 360.7 23.7 363.3 22.5Z" fill="#f7f7f7" fill-rule="evenodd" stroke="#808080" stroke-width="0.55"/>
<path d="M363.2 24.1 364.3 23.9 365.1 24.1 367.5 25.1 368.5 26.1 369.2 28.9 369.7 32.5 369.8 35.3 370.5 38.1 369.7 40.5 369.9 40.9 370.4 41.3 372.7 41.6 373.5 42.2 373.5 43.5 373.1 44.1 371.9 45.5 369.9 47.3 368.1 49.7 365.9 52.0 363.6 53.7 361.5 55.7 358.7 57.7 356.3 60.0 353.5 61.4 351.5 61.3 350.3 61.8 345.7 67.3 345.1 67.8 344.3 68.2 341.9 68.7 339.2 68.9 337.1 70.2 334.3 71.2 332.7 71.5 329.5 71.4 325.9 72.6 324.3 72.3 321.9 70.7 320.7 70.2 319.9 70.1 317.1 70.2 313.9 69.3 313.6 68.9 313.7 68.5 315.1 66.1 317.5 63.5 318.7 62.8 322.7 61.5 327.6 58.1 331.1 57.0 333.5 56.6 340.3 54.8 341.1 54.7 343.1 55.0 343.9 54.9 345.5 54.3 347.9 53.8 348.7 53.3 350.7 50.1 351.9 49.1 354.1 48.1 354.7 47.4 355.3 45.3 356.4 42.9 356.5 40.5 358.3 37.6 358.6 36.1 358.5 34.9 356.9 31.7 356.6 30.5 356.6 29.7 357.1 28.3 357.9 27.1 359.9 26.4 363.2 24.1Z" fill="#e9e9e9" fill-rule="evenodd" stroke="#666666" stroke-width="0.55"/>
<path d="M364.8 26.1 366.3 26.0 367.1 26.4 367.6 27.3 368.0 28.9 368.3 32.1 368.1 34.5 368.8 37.3 368.6 38.1 367.8 39.3 367.9 40.5 368.3 41.4 369.1 42.3 371.3 43.3 371.5 43.7 371.1 44.5 369.1 45.6 368.1 48.1 367.1 49.5 363.5 52.5 361.5 54.6 358.3 56.9 355.9 59.0 354.3 59.4 351.5 59.8 350.3 60.3 347.8 62.9 345.9 65.2 344.7 66.3 341.5 67.5 337.9 67.8 335.1 69.6 333.9 70.1 332.7 70.1 330.3 69.8 326.7 70.5 324.7 70.4 323.1 69.7 320.3 68.0 318.8 67.3 318.4 66.9 318.1 66.1 318.2 65.3 318.6 64.5 319.1 64.1 322.3 63.1 325.1 61.1 327.5 60.1 329.1 59.2 329.9 59.0 332.2 58.9 335.5 58.1 339.9 56.0 341.1 56.0 343.5 56.5 344.3 56.4 346.3 55.4 348.7 54.8 349.5 54.3 349.9 53.7 350.6 51.7 351.5 50.5 352.7 49.7 355.1 49.1 355.8 48.5 356.4 47.3 357.0 44.9 358.2 42.5 360.2 35.3 359.9 34.1 357.8 30.9 357.7 30.1 357.9 29.7 358.7 29.0 362.3 27.1 364.8 26.1Z" fill="#cecece" fill-rule="evenodd" stroke="#4a4a4a" stroke-width="0.55"/>
<path d="M361.7 28.9 363.1 28.6 365.5 29.2 366.3 29.7 366.7 30.5 366.7 32.5 365.9 34.2 365.1 34.9 363.6 35.3 363.7 35.7 364.9 36.5 365.2 36.9 365.5 39.3 367.3 43.3 367.4 46.9 366.9 48.1 366.3 48.9 363.1 50.9 360.7 53.9 355.5 57.7 354.3 58.1 350.7 58.5 349.1 59.1 347.6 61.3 345.9 62.5 342.7 65.6 341.5 66.3 339.9 66.6 337.1 66.3 336.3 66.7 334.3 68.4 333.5 68.6 330.7 67.7 326.3 67.7 325.1 67.1 324.1 65.7 324.0 64.5 324.4 63.3 325.9 62.1 329.5 60.9 332.3 60.5 336.6 59.3 339.9 58.0 341.1 58.2 342.7 59.7 343.5 60.0 344.3 59.9 346.7 58.1 348.1 56.5 350.3 55.3 350.9 54.5 351.6 52.1 352.3 51.2 353.5 50.7 356.7 50.6 357.4 50.1 358.8 44.9 360.9 40.5 361.1 37.3 361.5 36.3 362.3 35.3 362.2 34.9 360.4 32.5 359.8 30.9 360.0 30.1 360.4 29.7 361.7 28.9Z" fill="#a6a6a6" fill-rule="evenodd" stroke="#2d2d2d" stroke-width="0.55"/>
<path d="M362.4 31.7 362.7 31.6 363.2 31.7 363.6 32.1 363.5 32.5 363.1 32.6 362.6 32.5 362.3 32.1 362.4 31.7ZM361.3 44.5 362.3 44.3 365.4 44.9 366.0 45.7 366.1 46.9 365.7 47.7 365.1 48.2 362.3 48.9 361.6 49.3 359.8 51.3 359.6 50.9 359.7 49.3 360.3 47.7 360.7 45.3 361.3 44.5ZM359.5 51.7 359.5 51.7ZM358.8 52.1 359.1 52.0 359.3 52.1 359.0 52.9 358.0 54.1 357.1 54.8 355.9 55.2 353.6 54.9 353.6 54.5 354.0 53.7 354.8 52.9 355.9 52.5 357.9 52.3 358.8 52.1ZM339.1 60.9 340.3 60.9 341.5 61.2 342.4 61.7 342.9 62.5 342.9 63.3 342.5 64.1 341.9 64.9 341.1 65.4 339.9 65.5 338.7 65.1 338.1 64.5 337.1 62.7 336.3 62.4 335.5 62.8 335.1 63.3 334.3 65.3 333.5 66.1 328.7 66.1 327.4 65.7 326.6 64.9 326.5 64.1 327.1 63.3 329.1 62.3 331.9 62.1 334.3 61.6 336.3 61.5 339.1 60.9Z" fill="#707070" fill-rule="evenodd" stroke="#101010" stroke-width="0.55"/>
<ellipse cx="334" cy="63.5" rx="9.2" ry="3.0" transform="rotate(-15 334 63.5)" fill="#777" stroke="#111" stroke-width="1.5"/>
<path d="M326,66.5 Q324.5,63.5 328,61.5" fill="none" stroke="#000" stroke-width="2.0" stroke-linecap="round" stroke-linejoin="round"/>
<ellipse cx="335.5" cy="63.2" rx="5.0" ry="0.8" transform="rotate(-15 335.5 63.2)" fill="#ddd" stroke="none" stroke-width="0"/>
<ellipse cx="358.8" cy="51.5" rx="8.2" ry="2.3" transform="rotate(-38 358.8 51.5)" fill="#f4f4f4" stroke="#000" stroke-width="1.7"/>
</g>
<line x1="313.7" y1="47.5" x2="372.7" y2="47.5" stroke="#505050" stroke-width="1"/>
<line x1="347.6" y1="17.5" x2="347.6" y2="76.2" stroke="#505050" stroke-width="1"/>
<rect x="313.7" y="17.5" width="59" height="58.7" fill="none" stroke="#2a2a2a" stroke-width="1.05"/>
<text x="314.30" y="24.00" font-size="5.2" text-anchor="start" fill="#333" font-weight="normal" >0.22</text>
<text x="372.40" y="24.00" font-size="5.2" text-anchor="end" fill="#333" font-weight="normal" >19.5</text>
<text x="314.70" y="74.80" font-size="5.2" text-anchor="start" fill="#333" font-weight="normal" >42.6</text>
<text x="372.20" y="74.80" font-size="5.2" text-anchor="end" fill="#333" font-weight="normal" >37.7</text>
<text x="311.50" y="77.20" font-size="3.3" text-anchor="end" fill="#888" style="stroke:none">10<tspan dy="-1.2" font-size="2.2">0</tspan></text>
<text x="313.70" y="81.20" font-size="3.3" text-anchor="middle" fill="#888" style="stroke:none">10<tspan dy="-1.2" font-size="2.2">0</tspan></text>
<line x1="313.70" y1="76.2" x2="313.70" y2="77.4" stroke="#666" stroke-width="0.5"/>
<line x1="313.7" y1="76.20" x2="312.5" y2="76.20" stroke="#666" stroke-width="0.5"/>
<text x="311.50" y="62.53" font-size="3.3" text-anchor="end" fill="#888" style="stroke:none">10<tspan dy="-1.2" font-size="2.2">1</tspan></text>
<text x="328.45" y="81.20" font-size="3.3" text-anchor="middle" fill="#888" style="stroke:none">10<tspan dy="-1.2" font-size="2.2">1</tspan></text>
<line x1="328.45" y1="76.2" x2="328.45" y2="77.4" stroke="#666" stroke-width="0.5"/>
<line x1="313.7" y1="61.53" x2="312.5" y2="61.53" stroke="#666" stroke-width="0.5"/>
<text x="311.50" y="47.85" font-size="3.3" text-anchor="end" fill="#888" style="stroke:none">10<tspan dy="-1.2" font-size="2.2">2</tspan></text>
<text x="343.20" y="81.20" font-size="3.3" text-anchor="middle" fill="#888" style="stroke:none">10<tspan dy="-1.2" font-size="2.2">2</tspan></text>
<line x1="343.20" y1="76.2" x2="343.20" y2="77.4" stroke="#666" stroke-width="0.5"/>
<line x1="313.7" y1="46.85" x2="312.5" y2="46.85" stroke="#666" stroke-width="0.5"/>
<text x="311.50" y="33.17" font-size="3.3" text-anchor="end" fill="#888" style="stroke:none">10<tspan dy="-1.2" font-size="2.2">3</tspan></text>
<text x="357.95" y="81.20" font-size="3.3" text-anchor="middle" fill="#888" style="stroke:none">10<tspan dy="-1.2" font-size="2.2">3</tspan></text>
<line x1="357.95" y1="76.2" x2="357.95" y2="77.4" stroke="#666" stroke-width="0.5"/>
<line x1="313.7" y1="32.17" x2="312.5" y2="32.17" stroke="#666" stroke-width="0.5"/>
<text x="311.50" y="18.50" font-size="3.3" text-anchor="end" fill="#888" style="stroke:none">10<tspan dy="-1.2" font-size="2.2">4</tspan></text>
<text x="372.70" y="81.20" font-size="3.3" text-anchor="middle" fill="#888" style="stroke:none">10<tspan dy="-1.2" font-size="2.2">4</tspan></text>
<line x1="372.70" y1="76.2" x2="372.70" y2="77.4" stroke="#666" stroke-width="0.5"/>
<line x1="313.7" y1="17.50" x2="312.5" y2="17.50" stroke="#666" stroke-width="0.5"/>
<clipPath id="cp4"><rect x="402.5" y="17.7" width="58.5" height="58.5"/></clipPath>
<g clip-path="url(#cp4)">
<path d="M448.6 23.9 451.1 23.9 452.3 24.2 454.9 25.9 455.6 26.7 455.8 27.5 455.7 30.3 456.3 32.7 456.3 34.9 456.9 37.9 455.9 42.7 456.0 45.1 455.7 47.5 455.6 50.7 454.9 53.5 454.0 55.1 452.3 56.4 448.7 57.8 445.5 58.5 442.3 59.8 439.5 60.2 438.8 60.7 437.9 62.0 437.1 62.5 433.1 63.3 429.9 64.9 427.5 66.9 425.5 67.7 423.1 68.1 419.5 68.2 417.1 68.5 414.7 67.7 413.5 67.0 411.9 64.7 411.6 63.9 411.6 62.7 411.8 61.1 412.0 60.3 412.7 59.4 413.9 58.3 415.9 57.1 419.5 54.1 423.5 51.7 424.7 51.4 427.1 51.4 428.3 51.2 430.3 49.6 434.3 47.6 437.5 46.5 439.9 46.3 441.2 45.5 443.9 40.7 444.3 39.5 444.4 38.3 444.2 35.9 444.5 33.5 444.0 29.9 444.3 26.7 444.7 25.9 445.9 25.0 447.5 24.1 448.6 23.9Z" fill="#fcfcfc" fill-rule="evenodd" stroke="#989898" stroke-width="0.55"/>
<path d="M447.2 25.1 449.1 24.8 451.5 25.2 453.9 26.2 454.6 26.7 455.0 27.5 454.9 30.7 455.1 34.3 455.8 36.7 455.9 37.9 455.2 42.7 455.3 45.1 454.9 47.9 454.9 51.1 454.6 52.7 453.9 54.0 453.1 54.9 452.3 55.3 447.9 56.9 445.1 57.4 442.7 58.4 440.3 58.4 439.5 58.6 438.2 59.5 436.9 61.1 436.3 61.5 433.5 61.9 432.7 62.2 429.5 64.0 427.5 65.5 423.5 67.2 421.9 67.4 419.1 67.1 416.7 67.1 415.5 66.9 414.3 66.3 413.4 65.1 412.7 63.5 412.6 62.3 412.9 61.1 413.5 60.4 415.5 59.2 417.1 57.5 419.9 55.0 422.1 53.9 423.5 52.7 424.3 52.3 425.5 52.1 428.3 52.3 429.1 52.1 435.1 48.1 437.1 47.4 440.3 47.2 441.1 46.7 441.9 45.9 444.4 41.1 445.1 39.1 445.2 33.9 444.7 30.3 444.9 27.5 445.5 26.3 447.2 25.1Z" fill="#f8f8f8" fill-rule="evenodd" stroke="#7a7a7a" stroke-width="0.55"/>
<path d="M447.4 25.9 448.7 25.6 450.3 25.8 453.5 27.1 454.0 27.5 454.3 28.3 453.8 31.1 453.9 33.5 454.1 34.7 454.9 36.7 455.1 37.9 454.3 42.3 454.5 44.7 454.1 47.5 454.1 51.5 453.8 52.7 453.3 53.5 452.7 54.1 451.9 54.5 449.5 55.0 447.1 56.0 445.1 56.2 443.5 56.8 442.7 56.8 441.1 56.2 440.3 56.2 437.5 58.4 435.1 59.4 432.7 60.1 430.3 61.6 429.5 61.8 427.9 61.5 427.5 61.7 426.3 62.8 424.7 63.7 423.5 65.6 422.4 66.3 421.5 66.3 418.3 65.7 415.9 65.6 415.1 65.2 414.7 64.7 414.3 63.5 414.4 62.3 415.9 60.9 417.9 58.4 418.7 58.0 420.7 57.8 423.1 56.4 423.5 55.8 424.2 53.9 424.7 53.4 425.9 53.1 428.7 53.4 430.3 53.2 432.3 51.8 434.4 51.1 436.3 49.1 437.5 48.6 440.3 48.2 441.5 47.5 442.3 46.7 443.6 44.7 445.6 39.5 445.9 37.9 446.2 34.7 445.4 31.1 445.5 29.5 445.7 27.9 446.0 27.1 446.7 26.3 447.4 25.9Z" fill="#ebebeb" fill-rule="evenodd" stroke="#585858" stroke-width="0.55"/>
<path d="M448.0 26.7 449.1 26.6 449.9 26.8 452.4 28.3 452.8 28.7 452.4 31.1 452.5 32.7 453.0 34.7 454.0 36.7 454.1 37.9 453.5 39.3 452.3 40.3 451.9 41.1 452.0 41.5 453.0 43.1 453.3 44.3 453.3 51.1 453.0 52.3 452.2 53.1 451.5 53.4 449.1 53.6 447.0 54.7 445.5 54.9 444.7 54.7 444.1 54.3 443.5 52.0 442.7 51.3 441.9 51.2 441.1 51.5 439.9 52.8 439.1 53.2 438.3 52.9 437.5 52.3 437.3 51.5 437.9 50.7 440.7 49.7 441.5 49.1 445.1 44.8 445.6 42.3 447.2 37.1 447.5 35.5 447.4 34.3 446.3 31.5 446.4 30.3 446.8 27.9 447.4 27.1 448.0 26.7ZM432.9 54.3 433.5 53.9 434.3 54.1 434.6 54.7 434.4 55.9 433.5 57.3 431.1 58.7 429.9 59.1 427.5 58.8 425.5 58.9 425.0 58.7 424.7 58.3 424.7 57.5 425.2 55.9 425.7 55.1 426.3 54.7 428.3 54.7 431.1 55.2 431.9 55.0 432.9 54.3ZM418.1 60.7 418.7 60.4 419.1 60.6 419.9 61.5 420.6 63.5 420.6 63.9 420.3 64.3 419.5 64.5 418.7 64.4 417.5 64.0 417.0 63.5 416.9 63.1 416.9 62.3 417.3 61.5 418.1 60.7Z" fill="#d3d3d3" fill-rule="evenodd" stroke="#343434" stroke-width="0.55"/>
<path d="M448.7 29.9 449.1 29.7 449.5 29.9 450.3 30.6 450.6 31.1 450.9 32.3 451.1 34.7 452.3 36.7 452.3 37.1 452.1 37.5 449.5 39.1 449.1 39.1 448.9 38.7 449.9 36.7 450.1 35.5 449.7 34.7 448.3 33.1 447.8 31.9 447.9 30.9 448.7 29.9ZM447.5 41.5 447.9 41.2 448.7 41.2 451.6 44.3 451.9 45.1 452.3 47.5 452.4 49.5 452.2 50.7 451.5 51.5 448.7 51.8 446.3 52.6 445.8 52.3 445.3 51.5 444.4 48.3 445.0 47.1 446.5 45.5 446.9 42.7 447.5 41.5Z" fill="#b0b0b0" fill-rule="evenodd" stroke="#101010" stroke-width="0.55"/>
<g fill="none">
<ellipse cx="449.6" cy="38.2" rx="6.3" ry="15.4" transform="rotate(2 449.6 38.2)" fill="none" stroke="#666" stroke-width="0.7"/>
<ellipse cx="449.8" cy="38.4" rx="5.0" ry="14.0" transform="rotate(2 449.8 38.4)" fill="none" stroke="#333" stroke-width="0.8"/>
<ellipse cx="450.0" cy="38.6" rx="3.7" ry="12.4" transform="rotate(2 450.0 38.6)" fill="none" stroke="#222" stroke-width="0.9"/>
<ellipse cx="450.2" cy="38.8" rx="2.4" ry="10.6" transform="rotate(2 450.2 38.8)" fill="none" stroke="#111" stroke-width="1.0"/>
</g>
<path d="M444,53 Q451,50.5 453,44" fill="none" stroke="#000" stroke-width="1.8" stroke-linecap="round" stroke-linejoin="round"/>
<path d="M446,49 Q450,47 451,42" fill="none" stroke="#222" stroke-width="1.0" stroke-linecap="round" stroke-linejoin="round"/>
</g>
<line x1="402.5" y1="47.6" x2="461.0" y2="47.6" stroke="#505050" stroke-width="1"/>
<line x1="436.2" y1="17.7" x2="436.2" y2="76.2" stroke="#505050" stroke-width="1"/>
<rect x="402.5" y="17.7" width="58.5" height="58.5" fill="none" stroke="#2a2a2a" stroke-width="1.05"/>
<text x="403.10" y="24.20" font-size="5.2" text-anchor="start" fill="#333" font-weight="normal" >0.5</text>
<text x="460.70" y="24.20" font-size="5.2" text-anchor="end" fill="#333" font-weight="normal" >53.4</text>
<text x="403.50" y="74.80" font-size="5.2" text-anchor="start" fill="#333" font-weight="normal" >14.4</text>
<text x="460.50" y="74.80" font-size="5.2" text-anchor="end" fill="#333" font-weight="normal" >31.7</text>
<text x="400.30" y="77.20" font-size="3.3" text-anchor="end" fill="#888" style="stroke:none">10<tspan dy="-1.2" font-size="2.2">0</tspan></text>
<text x="402.50" y="81.20" font-size="3.3" text-anchor="middle" fill="#888" style="stroke:none">10<tspan dy="-1.2" font-size="2.2">0</tspan></text>
<line x1="402.50" y1="76.2" x2="402.50" y2="77.4" stroke="#666" stroke-width="0.5"/>
<line x1="402.5" y1="76.20" x2="401.3" y2="76.20" stroke="#666" stroke-width="0.5"/>
<text x="400.30" y="62.58" font-size="3.3" text-anchor="end" fill="#888" style="stroke:none">10<tspan dy="-1.2" font-size="2.2">1</tspan></text>
<text x="417.12" y="81.20" font-size="3.3" text-anchor="middle" fill="#888" style="stroke:none">10<tspan dy="-1.2" font-size="2.2">1</tspan></text>
<line x1="417.12" y1="76.2" x2="417.12" y2="77.4" stroke="#666" stroke-width="0.5"/>
<line x1="402.5" y1="61.58" x2="401.3" y2="61.58" stroke="#666" stroke-width="0.5"/>
<text x="400.30" y="47.95" font-size="3.3" text-anchor="end" fill="#888" style="stroke:none">10<tspan dy="-1.2" font-size="2.2">2</tspan></text>
<text x="431.75" y="81.20" font-size="3.3" text-anchor="middle" fill="#888" style="stroke:none">10<tspan dy="-1.2" font-size="2.2">2</tspan></text>
<line x1="431.75" y1="76.2" x2="431.75" y2="77.4" stroke="#666" stroke-width="0.5"/>
<line x1="402.5" y1="46.95" x2="401.3" y2="46.95" stroke="#666" stroke-width="0.5"/>
<text x="400.30" y="33.33" font-size="3.3" text-anchor="end" fill="#888" style="stroke:none">10<tspan dy="-1.2" font-size="2.2">3</tspan></text>
<text x="446.38" y="81.20" font-size="3.3" text-anchor="middle" fill="#888" style="stroke:none">10<tspan dy="-1.2" font-size="2.2">3</tspan></text>
<line x1="446.38" y1="76.2" x2="446.38" y2="77.4" stroke="#666" stroke-width="0.5"/>
<line x1="402.5" y1="32.33" x2="401.3" y2="32.33" stroke="#666" stroke-width="0.5"/>
<text x="400.30" y="18.70" font-size="3.3" text-anchor="end" fill="#888" style="stroke:none">10<tspan dy="-1.2" font-size="2.2">4</tspan></text>
<text x="461.00" y="81.20" font-size="3.3" text-anchor="middle" fill="#888" style="stroke:none">10<tspan dy="-1.2" font-size="2.2">4</tspan></text>
<line x1="461.00" y1="76.2" x2="461.00" y2="77.4" stroke="#666" stroke-width="0.5"/>
<line x1="402.5" y1="17.70" x2="401.3" y2="17.70" stroke="#666" stroke-width="0.5"/>
<clipPath id="cp5"><rect x="44.5" y="94.8" width="57.5" height="57.4"/></clipPath>
<g clip-path="url(#cp5)">
<path d="M86.3 94.2 87.1 93.9 89.1 94.6 90.7 94.0 91.9 93.8 93.5 94.1 95.1 94.7 98.4 98.2 99.2 100.2 99.2 101.8 98.7 103.4 97.2 106.2 95.6 110.2 95.0 111.0 93.5 112.3 93.1 112.9 92.4 116.2 91.9 117.4 89.5 120.0 85.5 124.8 84.3 126.7 82.8 130.2 80.3 133.0 79.5 134.2 79.1 135.4 79.0 137.8 77.8 140.2 77.7 141.0 78.0 142.6 77.6 143.8 76.1 145.0 75.1 146.3 73.5 147.5 72.1 150.6 70.2 152.2 69.5 153.0 43.5 153.0 43.5 130.5 45.5 129.6 47.5 126.5 50.2 124.6 52.3 122.4 53.1 122.1 55.2 122.2 56.3 121.9 59.1 118.9 60.3 118.0 62.3 117.2 65.5 116.9 66.3 116.3 67.9 114.5 71.1 112.2 75.5 110.3 77.0 108.2 78.5 106.6 79.3 103.8 80.1 102.2 82.3 99.8 86.3 94.2Z" fill="#fcfcfc" fill-rule="evenodd" stroke="#989898" stroke-width="0.55"/>
<path d="M92.0 95.8 93.5 95.6 94.7 96.2 95.3 97.4 95.7 99.8 97.1 101.8 97.0 102.6 96.3 104.0 95.0 108.2 94.4 109.4 92.2 111.8 91.9 112.6 91.3 115.4 90.9 116.2 88.3 118.2 86.6 121.0 84.3 124.0 81.4 129.8 77.9 133.1 77.6 134.2 77.8 137.8 76.7 140.2 76.3 142.2 75.7 143.0 73.2 144.6 72.3 145.5 71.8 146.6 71.3 149.4 70.9 150.2 69.1 151.8 68.3 153.0 43.5 153.0 43.5 137.6 44.2 135.4 43.7 133.4 43.9 132.4 44.3 132.2 45.5 131.8 46.3 131.3 48.2 127.8 50.3 126.6 53.1 123.7 53.9 123.5 55.9 123.3 56.8 123.0 61.9 118.8 63.1 118.5 64.7 119.0 65.5 119.0 69.5 115.8 71.5 114.9 75.1 114.2 76.3 113.6 77.3 112.2 78.1 109.0 79.5 107.4 79.9 106.6 80.5 103.8 81.2 102.6 82.9 101.0 84.3 99.4 87.1 97.2 89.5 96.8 92.0 95.8Z" fill="#f9f9f9" fill-rule="evenodd" stroke="#858585" stroke-width="0.55"/>
<path d="M91.4 97.8 92.7 97.6 93.1 97.8 93.6 98.6 93.8 99.8 93.6 101.8 94.3 103.4 94.6 105.0 94.4 106.2 93.8 107.8 92.8 109.4 90.6 111.8 90.3 112.6 90.2 114.2 89.9 115.0 89.1 115.7 87.1 116.6 84.7 120.3 82.3 122.2 81.5 124.4 80.7 124.8 78.7 124.8 78.3 125.0 78.0 125.4 78.0 126.6 78.3 127.3 79.3 128.6 79.4 129.4 78.7 130.6 76.5 132.2 76.0 133.0 75.8 133.8 76.4 136.6 76.3 137.8 74.7 141.4 71.6 143.8 70.9 144.6 70.2 148.6 69.7 149.4 67.9 151.0 67.0 153.0 43.5 153.0 43.5 139.9 44.7 138.5 46.4 134.2 47.5 133.0 50.0 131.4 50.8 129.4 51.9 128.0 53.1 125.8 54.3 124.9 57.9 124.4 60.7 122.6 63.9 121.4 66.3 121.0 67.9 119.6 68.7 119.2 71.5 119.2 72.7 118.7 73.1 118.2 73.9 116.5 74.7 115.9 77.1 114.6 77.9 113.6 79.5 110.9 81.0 109.8 81.4 107.8 82.1 105.8 82.2 104.2 82.6 103.4 84.2 102.2 85.5 100.8 87.1 100.0 88.7 98.8 91.4 97.8ZM91.1 101.7 91.2 102.2 91.5 102.3 91.9 102.2 91.7 101.8 91.1 101.7Z" fill="#efefef" fill-rule="evenodd" stroke="#6f6f6f" stroke-width="0.55"/>
<path d="M87.8 102.2 88.7 102.4 89.3 103.0 90.7 105.6 91.9 107.0 91.8 108.2 91.5 108.6 90.7 109.1 89.9 109.2 89.2 109.0 88.1 107.8 87.1 107.3 86.5 107.4 85.9 108.2 85.5 108.4 84.7 108.3 84.3 107.8 84.7 107.2 86.1 106.6 85.9 104.6 86.1 103.4 86.8 102.6 87.8 102.2ZM80.6 112.6 81.5 112.4 82.3 112.4 83.1 112.7 84.1 113.4 84.9 114.6 84.9 115.4 84.7 116.2 84.3 116.9 83.5 117.4 82.7 117.5 81.5 116.9 81.0 117.0 80.7 117.4 80.9 118.6 80.8 119.4 79.1 121.5 77.9 122.1 75.1 122.8 72.7 123.8 72.5 124.2 72.7 124.6 74.7 124.9 75.9 125.8 76.6 127.4 77.0 129.4 73.3 133.8 73.1 134.6 73.0 137.4 71.9 139.8 71.5 141.4 71.0 142.2 69.2 143.8 69.0 144.6 69.2 146.6 69.0 147.4 66.7 149.4 65.5 152.3 64.4 153.0 43.5 153.0 43.5 145.1 44.1 143.8 44.4 141.4 45.5 139.6 46.6 136.2 47.4 135.0 48.3 134.4 50.7 134.1 51.5 133.5 52.0 132.6 53.4 128.6 54.3 127.1 55.5 126.5 57.5 126.5 58.3 126.3 61.1 124.3 64.7 122.8 67.1 122.6 68.7 121.4 69.5 121.0 72.3 120.8 73.5 120.4 74.0 119.8 75.3 117.4 77.9 115.8 79.6 113.4 80.6 112.6Z" fill="#dddddd" fill-rule="evenodd" stroke="#585858" stroke-width="0.55"/>
<path d="M76.4 119.4 76.7 119.1 77.1 119.2 77.1 119.8 76.7 119.9 76.5 119.8 76.4 119.4ZM64.3 124.6 65.9 124.4 67.9 124.7 69.8 125.8 73.5 127.4 73.9 127.8 74.0 128.2 73.8 130.2 73.6 131.0 72.9 131.8 71.1 132.9 70.8 133.4 70.6 134.2 71.2 135.8 71.2 136.6 70.8 137.4 69.9 138.6 69.5 141.0 67.3 143.0 67.1 143.8 67.1 145.9 66.7 146.5 65.1 147.8 64.3 150.2 63.1 151.1 60.0 152.2 59.2 153.0 43.5 153.0 43.5 149.1 43.7 147.8 44.4 146.2 47.1 142.2 47.2 138.6 47.4 137.4 47.8 136.6 48.7 135.9 51.1 135.8 52.3 135.2 53.1 133.8 54.8 129.4 55.5 128.5 56.3 128.3 58.3 128.2 59.1 127.7 60.3 126.2 61.1 125.5 62.3 125.0 64.3 124.6Z" fill="#c2c2c2" fill-rule="evenodd" stroke="#404040" stroke-width="0.55"/>
<path d="M61.8 126.6 62.3 126.4 63.1 126.3 65.1 126.8 65.9 127.2 67.5 128.3 69.5 128.6 70.1 129.0 70.1 129.4 69.8 130.2 67.7 133.4 67.6 136.2 66.5 138.2 67.0 139.8 67.0 140.6 65.3 142.6 64.3 144.6 62.0 146.2 62.7 148.2 62.4 149.4 61.9 149.9 59.1 151.1 57.3 153.0 51.6 153.0 50.7 151.8 49.5 151.3 48.7 151.5 48.3 151.8 47.7 153.0 44.1 153.0 44.2 152.2 45.3 149.0 45.9 146.8 48.9 142.2 49.1 141.4 49.1 139.0 49.4 138.2 50.3 137.6 52.7 136.9 55.4 134.6 57.5 131.6 60.3 129.8 60.8 129.0 61.2 127.4 61.8 126.6Z" fill="#9e9e9e" fill-rule="evenodd" stroke="#282828" stroke-width="0.55"/>
<path d="M62.6 133.8 63.9 133.6 64.7 133.8 65.1 134.3 65.3 135.0 65.1 135.8 64.3 137.0 64.0 137.8 64.4 139.8 64.3 140.5 62.8 143.0 62.3 143.4 60.0 144.2 58.6 145.0 57.7 145.8 56.7 147.3 56.3 147.5 55.5 147.7 54.7 147.4 53.1 146.6 53.1 146.4 53.0 146.6 51.1 147.4 50.3 147.2 49.9 146.6 49.5 145.4 49.7 144.6 50.3 143.9 50.7 144.0 51.9 145.4 52.7 146.1 53.1 146.2 54.2 145.4 54.6 144.6 54.6 143.8 54.0 143.0 53.5 142.6 51.9 142.1 51.2 141.4 50.9 140.2 51.1 139.4 51.4 139.0 54.2 137.8 58.3 134.4 59.1 134.2 61.1 134.2 62.6 133.8Z" fill="#707070" fill-rule="evenodd" stroke="#101010" stroke-width="0.55"/>
<ellipse cx="56.8" cy="143.5" rx="2.8" ry="6.8" transform="rotate(30 56.8 143.5)" fill="#555" stroke="#8a8a8a" stroke-width="4.800000000000001"/><ellipse cx="56.8" cy="143.5" rx="2.8" ry="6.8" transform="rotate(30 56.8 143.5)" fill="none" stroke="#000" stroke-width="1.6"/>
<ellipse cx="57.2" cy="143.0" rx="0.7" ry="3.8" transform="rotate(32 57.2 143.0)" fill="#ccc" stroke="none" stroke-width="0"/>
</g>
<line x1="44.5" y1="123.5" x2="102.0" y2="123.5" stroke="#505050" stroke-width="1"/>
<line x1="72.5" y1="94.8" x2="72.5" y2="152.2" stroke="#505050" stroke-width="1"/>
<rect x="44.5" y="94.8" width="57.5" height="57.4" fill="none" stroke="#2a2a2a" stroke-width="1.05"/>
<text x="45.10" y="100.40" font-size="5.2" text-anchor="start" fill="#333" font-weight="normal" >0.8</text>
<text x="101.70" y="100.40" font-size="5.2" text-anchor="end" fill="#333" font-weight="normal" >10.9</text>
<text x="45.50" y="150.80" font-size="5.2" text-anchor="start" fill="#333" font-weight="normal" >81.7</text>
<text x="101.50" y="150.80" font-size="5.2" text-anchor="end" fill="#333" font-weight="normal" >6.6</text>
<text x="42.30" y="153.20" font-size="3.3" text-anchor="end" fill="#888" style="stroke:none">10<tspan dy="-1.2" font-size="2.2">0</tspan></text>
<text x="44.50" y="157.20" font-size="3.3" text-anchor="middle" fill="#888" style="stroke:none">10<tspan dy="-1.2" font-size="2.2">0</tspan></text>
<line x1="44.50" y1="152.2" x2="44.50" y2="153.39999999999998" stroke="#666" stroke-width="0.5"/>
<line x1="44.5" y1="152.20" x2="43.3" y2="152.20" stroke="#666" stroke-width="0.5"/>
<text x="42.30" y="138.85" font-size="3.3" text-anchor="end" fill="#888" style="stroke:none">10<tspan dy="-1.2" font-size="2.2">1</tspan></text>
<text x="58.88" y="157.20" font-size="3.3" text-anchor="middle" fill="#888" style="stroke:none">10<tspan dy="-1.2" font-size="2.2">1</tspan></text>
<line x1="58.88" y1="152.2" x2="58.88" y2="153.39999999999998" stroke="#666" stroke-width="0.5"/>
<line x1="44.5" y1="137.85" x2="43.3" y2="137.85" stroke="#666" stroke-width="0.5"/>
<text x="42.30" y="124.50" font-size="3.3" text-anchor="end" fill="#888" style="stroke:none">10<tspan dy="-1.2" font-size="2.2">2</tspan></text>
<text x="73.25" y="157.20" font-size="3.3" text-anchor="middle" fill="#888" style="stroke:none">10<tspan dy="-1.2" font-size="2.2">2</tspan></text>
<line x1="73.25" y1="152.2" x2="73.25" y2="153.39999999999998" stroke="#666" stroke-width="0.5"/>
<line x1="44.5" y1="123.50" x2="43.3" y2="123.50" stroke="#666" stroke-width="0.5"/>
<text x="42.30" y="110.15" font-size="3.3" text-anchor="end" fill="#888" style="stroke:none">10<tspan dy="-1.2" font-size="2.2">3</tspan></text>
<text x="87.62" y="157.20" font-size="3.3" text-anchor="middle" fill="#888" style="stroke:none">10<tspan dy="-1.2" font-size="2.2">3</tspan></text>
<line x1="87.62" y1="152.2" x2="87.62" y2="153.39999999999998" stroke="#666" stroke-width="0.5"/>
<line x1="44.5" y1="109.15" x2="43.3" y2="109.15" stroke="#666" stroke-width="0.5"/>
<text x="42.30" y="95.80" font-size="3.3" text-anchor="end" fill="#888" style="stroke:none">10<tspan dy="-1.2" font-size="2.2">4</tspan></text>
<text x="102.00" y="157.20" font-size="3.3" text-anchor="middle" fill="#888" style="stroke:none">10<tspan dy="-1.2" font-size="2.2">4</tspan></text>
<line x1="102.00" y1="152.2" x2="102.00" y2="153.39999999999998" stroke="#666" stroke-width="0.5"/>
<line x1="44.5" y1="94.80" x2="43.3" y2="94.80" stroke="#666" stroke-width="0.5"/>
<clipPath id="cp6"><rect x="129.2" y="94.6" width="58.5" height="57.7"/></clipPath>
<g clip-path="url(#cp6)">
<path d="M176.6 94.0 180.6 93.9 184.2 95.2 185.4 95.2 187.8 94.8 188.6 94.9 188.6 109.2 187.6 110.4 187.4 111.6 187.8 113.6 188.6 115.0 188.6 122.5 186.5 125.6 186.1 126.8 185.9 129.6 185.1 131.2 183.0 132.8 179.4 137.2 177.0 139.0 175.2 141.2 170.6 143.6 167.4 145.6 166.2 146.0 164.2 145.8 161.4 146.0 158.6 145.0 157.6 144.4 157.1 143.2 156.9 141.2 157.2 140.4 158.4 138.8 158.4 137.6 157.8 135.7 157.0 134.3 156.2 133.9 155.4 134.0 154.6 134.6 153.8 135.7 152.6 139.2 150.9 142.0 150.3 144.4 149.3 146.8 148.5 149.6 148.1 152.4 147.7 153.2 130.5 153.2 129.8 151.3 128.2 149.5 128.2 143.2 129.4 142.0 129.6 141.2 128.8 138.4 129.1 137.6 129.4 137.1 131.1 136.0 131.7 135.2 132.7 130.0 133.8 126.4 134.3 125.6 137.6 122.8 139.4 120.7 141.4 119.2 142.0 117.6 142.6 116.9 143.4 116.4 145.4 115.7 146.1 115.2 148.5 111.2 148.5 109.2 148.7 108.4 152.2 103.5 153.0 103.0 154.6 102.5 155.8 101.9 158.0 100.4 159.8 98.4 161.0 97.4 165.8 95.0 168.2 94.7 170.6 95.1 171.4 95.1 174.2 94.2 176.6 94.0ZM151.8 110.6 151.3 111.2 151.7 112.0 152.6 113.1 153.0 113.3 153.4 113.2 153.4 111.7 153.1 110.8 152.6 110.5 151.8 110.6ZM161.0 123.5 159.8 124.4 159.5 125.2 159.6 125.6 160.2 126.4 160.9 126.8 162.2 126.8 163.3 126.0 163.4 125.6 163.4 124.8 162.6 123.8 161.8 123.5 161.0 123.5Z" fill="#fcfcfc" fill-rule="evenodd" stroke="#989898" stroke-width="0.55"/>
<path d="M174.5 95.2 177.4 95.0 180.2 95.1 181.4 95.4 184.6 96.6 187.4 96.7 188.6 97.0 188.6 107.3 187.0 108.3 186.2 109.1 185.7 110.0 185.4 111.2 186.3 114.0 187.8 116.8 187.9 117.6 187.2 119.6 186.9 122.4 185.4 124.5 184.8 126.0 184.7 126.8 184.9 129.2 184.4 130.4 182.2 132.2 178.6 136.7 176.4 138.0 174.2 140.2 172.6 141.4 167.0 144.0 165.8 144.1 164.2 143.6 161.8 144.5 159.8 144.3 158.7 143.6 158.3 142.4 158.5 141.2 159.8 140.0 160.2 139.2 160.1 138.4 159.0 135.2 158.9 133.6 159.2 132.8 160.7 130.8 161.7 129.2 163.8 127.5 164.3 126.8 164.7 125.6 164.9 123.6 164.7 122.4 163.8 121.6 162.2 121.5 160.6 121.8 158.6 123.5 156.5 124.8 156.0 125.6 155.7 127.6 155.4 128.1 154.2 129.0 153.8 129.6 153.9 130.4 154.4 131.6 154.3 132.4 152.2 135.6 151.4 138.4 150.2 140.8 148.2 145.6 146.8 151.6 145.8 153.1 132.0 153.2 130.6 150.2 128.9 148.0 128.6 146.4 128.6 145.2 129.0 144.4 130.2 143.4 130.6 142.8 131.4 139.0 133.2 137.2 133.4 136.4 133.6 131.6 133.8 130.4 134.2 129.6 135.8 127.6 137.0 125.2 140.5 121.6 143.0 120.7 143.4 120.2 143.9 118.4 144.2 118.0 145.4 117.5 148.2 117.0 149.3 116.4 149.5 115.6 149.5 114.8 149.8 114.2 150.2 114.3 150.7 114.8 151.6 117.2 152.6 117.8 153.4 117.5 154.5 116.0 156.2 114.4 156.6 113.8 156.7 113.2 156.3 111.6 156.5 110.0 156.2 109.2 155.4 108.5 153.2 107.6 152.7 107.2 152.6 106.4 153.4 105.4 155.8 104.4 157.4 102.8 159.0 101.9 159.6 101.2 160.7 99.2 161.4 98.5 162.6 97.7 166.6 96.0 168.2 95.8 171.0 96.0 174.5 95.2Z" fill="#f5f5f5" fill-rule="evenodd" stroke="#7a7a7a" stroke-width="0.55"/>
<path d="M173.8 96.4 179.8 96.3 181.0 96.6 183.4 97.7 184.3 98.4 185.3 101.2 187.1 103.6 187.2 104.4 186.9 105.2 184.0 109.6 183.2 111.6 183.2 112.4 184.3 116.0 185.4 121.6 185.2 122.4 183.9 124.4 183.4 125.6 183.3 126.8 183.5 128.8 183.2 129.6 181.4 131.1 180.1 133.2 178.6 134.8 176.6 135.9 172.6 139.6 171.0 140.1 168.2 140.0 167.5 140.4 166.2 141.5 165.0 141.3 163.6 140.4 162.7 137.6 161.2 135.6 161.0 134.4 161.4 133.6 162.6 132.3 165.4 128.4 165.7 127.6 165.9 125.6 166.2 124.8 168.2 122.9 169.5 120.8 169.5 120.0 168.5 118.0 168.3 117.2 169.3 115.6 169.4 114.8 169.2 114.4 168.6 114.4 166.9 116.0 165.4 116.9 163.8 118.8 162.6 119.2 160.6 119.3 159.8 119.4 159.2 120.0 158.5 121.6 157.8 122.5 157.0 122.9 155.0 123.2 154.0 124.0 153.2 126.4 151.8 129.2 151.8 130.4 152.2 132.0 152.2 132.8 150.5 135.2 150.1 138.4 148.7 141.2 147.1 145.2 146.1 150.0 145.4 151.4 143.4 153.2 134.3 153.2 132.5 150.8 132.1 149.6 131.9 148.0 132.2 146.0 131.9 143.6 132.0 142.0 132.6 140.0 134.1 138.4 134.5 137.6 134.7 134.4 135.1 132.4 136.6 130.0 138.6 125.9 141.5 123.2 144.2 121.7 145.4 119.4 146.2 118.8 147.4 118.7 148.6 118.9 149.5 119.2 151.4 120.5 154.2 121.1 155.0 120.9 156.3 119.2 156.5 118.4 156.4 117.2 156.6 116.9 157.8 116.1 158.4 115.2 158.4 112.8 158.2 110.0 157.7 107.2 157.9 106.4 158.7 105.2 161.0 102.9 161.8 100.4 162.3 99.6 163.8 98.5 166.2 97.5 168.2 97.1 171.0 97.4 173.8 96.4Z" fill="#dddddd" fill-rule="evenodd" stroke="#585858" stroke-width="0.55"/>
<path d="M166.9 98.8 169.0 98.9 172.2 100.4 175.8 100.6 177.4 100.3 179.4 98.8 180.2 98.8 181.8 99.0 182.6 99.4 183.2 100.0 184.2 102.4 184.5 103.6 184.2 105.5 183.4 106.9 178.1 110.0 177.7 110.4 177.3 111.2 177.5 112.4 178.2 113.6 181.0 114.9 182.0 116.0 183.5 119.6 183.8 120.8 183.7 121.6 183.0 122.3 181.1 122.4 180.5 122.8 180.0 124.4 179.2 125.6 179.3 126.4 180.0 128.0 179.1 130.0 178.8 131.6 178.4 132.4 175.8 134.1 173.8 136.6 172.2 137.7 171.4 138.0 166.6 137.9 165.9 137.6 163.7 134.8 163.6 134.0 163.8 133.2 164.6 132.0 167.0 130.3 167.8 129.2 167.9 128.4 167.4 126.8 167.6 126.0 168.2 125.7 168.6 125.8 170.2 126.6 171.0 126.8 171.8 126.1 172.1 124.8 171.3 122.8 171.4 122.2 171.8 121.6 172.6 121.1 175.4 120.2 175.8 120.2 177.0 120.8 177.8 120.8 178.3 120.4 178.3 120.0 177.8 119.4 176.2 119.4 175.8 119.2 174.6 117.8 173.8 117.2 172.6 117.1 171.8 117.4 171.5 117.2 171.5 113.6 171.1 112.8 170.6 112.4 169.8 111.9 169.0 111.8 167.0 112.7 166.6 112.7 165.8 112.2 163.0 109.5 162.2 109.2 160.6 109.7 160.2 109.5 160.0 108.8 160.3 108.0 163.0 107.3 164.2 106.4 164.5 105.6 163.5 102.8 163.5 101.2 163.9 100.4 164.7 99.6 165.8 99.0 166.9 98.8ZM147.2 121.6 147.8 121.2 148.6 121.5 149.4 122.3 149.7 123.2 149.5 126.8 149.6 132.0 149.3 132.4 148.2 132.9 147.8 134.0 147.9 134.8 149.0 137.0 148.9 138.4 147.8 140.4 146.9 142.8 145.9 144.8 145.4 146.8 145.0 147.5 144.6 147.8 143.0 147.9 142.2 148.4 142.1 149.2 142.6 150.8 142.2 151.6 140.2 152.4 139.2 153.2 136.3 153.2 134.3 150.8 133.9 150.0 133.8 149.2 134.4 146.8 133.5 142.4 133.9 140.8 135.3 138.8 135.6 138.0 135.6 135.2 135.9 133.6 136.5 132.4 137.9 130.8 138.9 128.4 139.8 127.4 140.6 127.1 141.4 127.0 142.2 127.3 143.8 128.3 144.2 128.3 144.6 128.0 144.8 127.2 144.1 125.2 144.0 124.4 144.2 124.0 145.0 123.5 146.6 123.5 147.0 123.3 147.2 121.6Z" fill="#b1b1b1" fill-rule="evenodd" stroke="#343434" stroke-width="0.55"/>
<path d="M166.5 100.4 167.8 100.2 169.0 100.6 169.9 101.6 169.9 102.4 167.8 103.9 167.0 104.1 166.2 103.8 165.4 102.9 165.2 102.0 165.5 101.2 166.5 100.4ZM175.3 103.2 176.6 102.9 178.2 103.0 179.0 103.5 179.2 104.4 179.0 106.5 178.7 107.2 178.2 107.8 177.4 108.2 176.6 108.3 174.6 107.7 174.2 107.9 173.9 108.4 173.9 109.2 174.2 110.8 176.3 115.2 176.2 115.8 175.8 116.0 174.2 115.2 173.7 114.4 173.6 113.2 173.2 112.4 170.6 110.8 170.2 110.4 169.9 109.6 170.6 108.2 172.7 106.4 173.4 104.3 175.3 103.2ZM175.0 124.0 175.4 123.9 176.2 124.2 177.3 126.8 177.5 128.4 176.9 130.4 176.2 131.5 174.8 132.4 173.9 134.4 173.4 134.9 172.2 135.4 170.2 135.0 169.4 134.5 168.3 133.2 168.0 132.4 168.1 132.0 168.6 131.2 169.4 130.5 170.2 130.3 171.8 130.2 172.6 129.9 173.3 126.8 175.0 124.0ZM140.2 129.2 140.6 128.9 141.4 128.9 143.4 130.5 145.1 131.2 145.2 131.6 145.0 132.3 144.2 132.9 143.4 133.0 141.8 132.5 141.4 132.5 141.2 132.8 141.2 133.2 141.8 134.4 144.1 136.8 144.7 137.2 146.6 138.0 146.9 138.8 145.8 142.0 145.0 143.3 142.2 145.8 139.4 147.0 138.9 147.6 138.3 150.0 137.8 150.4 137.0 150.5 136.0 150.0 135.8 149.2 136.2 147.6 135.9 144.8 136.5 142.8 135.9 141.6 135.9 140.8 137.2 138.4 137.4 137.6 136.7 135.6 136.6 134.4 136.9 133.6 137.4 132.9 139.8 131.6 139.9 130.0 140.2 129.2Z" fill="#707070" fill-rule="evenodd" stroke="#101010" stroke-width="0.55"/>
<ellipse cx="141.5" cy="138.5" rx="3.0" ry="9.8" transform="rotate(20 141.5 138.5)" fill="#888" stroke="#8a8a8a" stroke-width="4.0"/><ellipse cx="141.5" cy="138.5" rx="3.0" ry="9.8" transform="rotate(20 141.5 138.5)" fill="none" stroke="#000" stroke-width="1.6"/>
<ellipse cx="141.8" cy="138.3" rx="0.9" ry="6.0" transform="rotate(20 141.8 138.3)" fill="#ddd" stroke="none" stroke-width="0"/>
<ellipse cx="173.8" cy="105.4" rx="6.2" ry="3.0" transform="rotate(-10 173.8 105.4)" fill="#bbb" stroke="#8a8a8a" stroke-width="4.3"/><ellipse cx="173.8" cy="105.4" rx="6.2" ry="3.0" transform="rotate(-10 173.8 105.4)" fill="none" stroke="#000" stroke-width="1.9"/>
<ellipse cx="174.5" cy="105.2" rx="3.2" ry="1.0" transform="rotate(-10 174.5 105.2)" fill="#eee" stroke="none" stroke-width="0"/>
<ellipse cx="177.6" cy="117.4" rx="2.0" ry="2.6" transform="rotate(0 177.6 117.4)" fill="#ccc" stroke="#8a8a8a" stroke-width="4.0"/><ellipse cx="177.6" cy="117.4" rx="2.0" ry="2.6" transform="rotate(0 177.6 117.4)" fill="none" stroke="#111" stroke-width="1.6"/>
<ellipse cx="172.6" cy="130.2" rx="7.2" ry="2.7" transform="rotate(-45 172.6 130.2)" fill="#eee" stroke="#8a8a8a" stroke-width="4.4"/><ellipse cx="172.6" cy="130.2" rx="7.2" ry="2.7" transform="rotate(-45 172.6 130.2)" fill="none" stroke="#000" stroke-width="2.0"/>
</g>
<line x1="129.2" y1="123.3" x2="187.7" y2="123.3" stroke="#505050" stroke-width="1"/>
<line x1="158.6" y1="94.6" x2="158.6" y2="152.3" stroke="#505050" stroke-width="1"/>
<rect x="129.2" y="94.6" width="58.5" height="57.7" fill="none" stroke="#2a2a2a" stroke-width="1.05"/>
<text x="129.80" y="100.20" font-size="5.2" text-anchor="start" fill="#333" font-weight="normal" >3.8</text>
<text x="187.40" y="100.20" font-size="5.2" text-anchor="end" fill="#333" font-weight="normal" >45.1</text>
<text x="130.20" y="150.90" font-size="5.2" text-anchor="start" fill="#333" font-weight="normal" >28</text>
<text x="187.20" y="150.90" font-size="5.2" text-anchor="end" fill="#333" font-weight="normal" >22.4</text>
<text x="127.00" y="153.30" font-size="3.3" text-anchor="end" fill="#888" style="stroke:none">10<tspan dy="-1.2" font-size="2.2">0</tspan></text>
<text x="129.20" y="157.30" font-size="3.3" text-anchor="middle" fill="#888" style="stroke:none">10<tspan dy="-1.2" font-size="2.2">0</tspan></text>
<line x1="129.20" y1="152.3" x2="129.20" y2="153.5" stroke="#666" stroke-width="0.5"/>
<line x1="129.2" y1="152.30" x2="127.99999999999999" y2="152.30" stroke="#666" stroke-width="0.5"/>
<text x="127.00" y="138.88" font-size="3.3" text-anchor="end" fill="#888" style="stroke:none">10<tspan dy="-1.2" font-size="2.2">1</tspan></text>
<text x="143.82" y="157.30" font-size="3.3" text-anchor="middle" fill="#888" style="stroke:none">10<tspan dy="-1.2" font-size="2.2">1</tspan></text>
<line x1="143.82" y1="152.3" x2="143.82" y2="153.5" stroke="#666" stroke-width="0.5"/>
<line x1="129.2" y1="137.88" x2="127.99999999999999" y2="137.88" stroke="#666" stroke-width="0.5"/>
<text x="127.00" y="124.45" font-size="3.3" text-anchor="end" fill="#888" style="stroke:none">10<tspan dy="-1.2" font-size="2.2">2</tspan></text>
<text x="158.45" y="157.30" font-size="3.3" text-anchor="middle" fill="#888" style="stroke:none">10<tspan dy="-1.2" font-size="2.2">2</tspan></text>
<line x1="158.45" y1="152.3" x2="158.45" y2="153.5" stroke="#666" stroke-width="0.5"/>
<line x1="129.2" y1="123.45" x2="127.99999999999999" y2="123.45" stroke="#666" stroke-width="0.5"/>
<text x="127.00" y="110.03" font-size="3.3" text-anchor="end" fill="#888" style="stroke:none">10<tspan dy="-1.2" font-size="2.2">3</tspan></text>
<text x="173.07" y="157.30" font-size="3.3" text-anchor="middle" fill="#888" style="stroke:none">10<tspan dy="-1.2" font-size="2.2">3</tspan></text>
<line x1="173.07" y1="152.3" x2="173.07" y2="153.5" stroke="#666" stroke-width="0.5"/>
<line x1="129.2" y1="109.03" x2="127.99999999999999" y2="109.03" stroke="#666" stroke-width="0.5"/>
<text x="127.00" y="95.60" font-size="3.3" text-anchor="end" fill="#888" style="stroke:none">10<tspan dy="-1.2" font-size="2.2">4</tspan></text>
<text x="187.70" y="157.30" font-size="3.3" text-anchor="middle" fill="#888" style="stroke:none">10<tspan dy="-1.2" font-size="2.2">4</tspan></text>
<line x1="187.70" y1="152.3" x2="187.70" y2="153.5" stroke="#666" stroke-width="0.5"/>
<line x1="129.2" y1="94.60" x2="127.99999999999999" y2="94.60" stroke="#666" stroke-width="0.5"/>
<clipPath id="cp7"><rect x="221.6" y="95.5" width="58.0" height="58.1"/></clipPath>
<g clip-path="url(#cp7)">
<path d="M259.9 98.5 260.6 98.2 261.4 98.2 264.1 98.9 269.8 99.4 271.4 100.0 273.8 101.2 274.6 101.2 275.8 100.8 276.6 100.9 277.1 101.3 277.7 102.1 278.3 104.5 278.6 104.9 279.8 105.0 280.6 105.3 280.6 109.4 279.1 110.5 278.5 111.3 278.8 112.5 280.6 115.1 280.6 128.3 279.7 129.7 279.3 132.1 278.7 133.3 277.8 134.2 275.8 135.5 272.6 137.1 270.5 139.3 267.8 140.8 264.6 143.5 261.0 145.0 258.2 145.5 257.4 145.9 255.8 147.3 255.0 147.6 252.6 147.9 251.8 148.5 250.6 150.1 249.8 150.6 248.6 150.8 245.4 150.3 244.2 150.6 243.4 151.2 241.2 154.5 222.6 154.5 221.4 151.7 220.6 150.6 220.6 144.9 221.7 141.3 222.0 138.9 222.6 138.2 224.7 137.3 225.0 136.8 225.6 134.1 227.7 130.1 229.4 128.4 231.0 126.3 231.8 125.9 233.4 125.4 234.0 124.9 235.4 122.3 236.2 122.0 237.8 122.0 238.2 121.7 239.1 120.1 241.4 117.5 242.2 117.4 244.6 118.1 245.4 117.9 245.8 117.7 247.0 115.7 248.5 114.5 250.6 112.5 251.2 111.7 251.2 110.9 251.0 110.3 249.4 109.0 248.9 108.1 248.9 106.9 249.2 106.1 249.8 105.5 251.5 104.5 251.9 103.7 252.4 102.1 253.2 101.3 255.8 99.5 256.6 99.3 258.2 99.5 258.8 99.3 259.9 98.5Z" fill="#fcfcfc" fill-rule="evenodd" stroke="#989898" stroke-width="0.55"/>
<path d="M260.9 99.3 261.8 99.2 269.8 100.5 271.4 101.0 272.4 101.7 275.4 104.4 277.0 107.2 277.9 108.1 278.0 108.5 278.0 108.9 277.0 110.8 276.9 111.7 279.7 116.5 280.6 117.4 280.6 122.6 279.2 124.9 279.6 126.5 279.6 127.3 278.3 129.7 277.6 132.5 276.6 133.4 272.6 135.6 269.6 138.5 265.8 141.1 264.6 141.6 262.6 140.8 261.8 140.9 261.4 141.3 260.2 143.0 257.0 144.4 255.0 146.0 254.2 146.2 251.8 146.3 251.0 146.6 250.3 147.3 249.4 148.9 249.0 149.2 247.8 149.0 247.2 148.5 246.6 147.3 246.2 147.2 245.8 147.3 243.0 149.7 241.4 152.2 239.4 154.5 225.8 154.5 224.0 152.9 223.4 152.1 223.2 150.9 223.7 149.3 223.6 148.9 222.2 147.7 222.0 146.9 222.1 146.1 222.4 145.3 223.8 143.3 223.7 141.3 223.8 140.5 224.2 139.9 225.8 138.8 227.0 135.9 229.4 133.4 229.8 132.5 230.4 129.7 231.1 128.1 231.8 127.3 234.2 126.4 235.8 125.1 236.6 124.9 237.8 124.9 238.6 124.6 239.4 123.4 240.2 121.0 241.4 119.9 242.6 119.6 245.8 119.6 247.0 119.1 247.4 118.5 248.2 116.7 250.2 115.3 252.4 112.1 252.5 111.3 252.3 110.1 250.9 108.1 250.7 107.3 250.9 106.9 252.6 105.3 253.8 102.6 255.8 101.0 256.6 100.7 258.6 100.7 260.9 99.3ZM254.2 124.9 253.8 125.3 253.8 125.7 254.2 126.1 255.4 126.5 256.4 126.1 256.5 125.7 256.4 125.3 255.9 124.9 255.0 124.7 254.2 124.9Z" fill="#f5f5f5" fill-rule="evenodd" stroke="#7a7a7a" stroke-width="0.55"/>
<path d="M260.8 100.5 261.8 100.2 263.4 100.3 264.6 100.7 266.6 101.7 269.4 101.5 271.0 101.9 271.9 102.5 274.1 104.9 275.2 106.5 276.0 108.5 276.0 109.3 275.1 111.7 275.0 112.5 276.8 114.1 278.1 116.9 279.0 118.2 280.4 119.7 280.2 120.1 279.0 121.1 278.1 122.5 276.8 124.1 276.8 125.3 277.7 127.7 276.2 131.7 275.4 132.4 274.6 132.6 273.4 132.7 271.8 132.5 271.4 132.6 271.2 134.5 270.6 135.7 269.0 137.4 266.2 139.6 265.0 140.0 262.6 139.6 261.3 139.7 260.2 140.4 258.5 142.1 254.6 144.0 253.8 144.1 252.2 143.3 250.2 143.2 249.4 142.9 248.2 141.7 247.4 139.7 246.6 139.2 245.8 139.5 245.4 140.1 246.4 141.3 246.5 142.1 245.7 142.9 244.6 143.4 243.8 143.4 243.0 142.9 242.2 142.7 241.5 142.9 241.0 143.3 240.5 144.1 240.2 145.3 240.3 146.1 241.2 148.1 240.9 149.3 240.2 150.1 238.6 151.0 236.6 153.6 235.8 154.2 235.0 154.3 233.8 154.0 233.0 154.1 232.3 154.5 229.9 154.5 228.6 153.4 226.2 152.4 225.5 151.7 225.3 151.3 226.1 149.3 226.0 148.5 224.6 146.5 224.7 145.7 225.7 143.3 226.3 140.9 227.8 137.4 228.2 136.9 230.2 135.1 230.8 134.1 231.6 130.1 231.9 129.3 232.6 128.6 234.6 128.2 236.2 126.9 238.6 126.4 240.5 124.5 241.6 122.5 243.0 121.6 244.2 121.4 245.0 121.4 247.0 122.5 247.8 122.7 248.6 122.6 249.1 122.1 249.4 119.6 249.8 119.1 250.2 119.0 252.2 119.6 253.0 120.5 253.2 121.7 252.9 122.5 252.2 123.1 250.7 124.1 250.4 124.5 250.2 125.3 250.4 125.7 251.9 126.9 253.4 127.9 256.2 128.2 257.4 128.0 259.0 125.4 261.4 123.6 261.7 122.5 261.1 120.1 261.3 118.5 261.3 118.1 261.0 117.8 259.4 117.6 257.8 118.1 257.4 118.5 257.2 119.3 257.4 120.9 257.3 121.7 257.0 122.1 256.3 122.1 255.8 121.7 254.8 119.7 254.2 116.9 253.0 115.3 252.9 114.9 253.4 114.1 254.4 113.3 254.6 112.9 254.3 111.3 253.1 107.7 253.3 106.9 254.6 104.1 255.3 103.3 256.2 102.6 259.0 101.5 260.8 100.5ZM243.4 127.4 243.2 127.7 243.4 127.9 243.8 127.8 243.8 127.6 243.4 127.4ZM248.6 127.6 247.5 128.5 247.3 128.9 247.3 129.7 248.6 132.6 249.0 133.0 249.8 133.1 250.9 132.5 251.9 131.7 252.2 131.2 252.3 130.5 251.8 130.1 250.2 129.9 249.8 129.7 249.0 127.7 248.6 127.6Z" fill="#dddddd" fill-rule="evenodd" stroke="#585858" stroke-width="0.55"/>
<path d="M260.9 101.7 262.2 101.4 263.4 101.7 264.0 102.5 264.0 103.7 263.3 104.5 261.8 105.5 259.4 106.2 258.2 106.2 257.8 105.9 257.5 104.9 257.6 103.7 258.4 102.9 260.9 101.7ZM269.0 102.9 269.8 102.9 270.6 103.2 273.1 105.3 274.3 107.3 274.6 108.5 274.5 109.3 273.8 110.4 271.2 112.9 271.1 113.3 272.2 114.2 272.7 114.9 272.5 116.1 271.8 117.3 271.0 117.6 268.6 117.7 266.3 118.5 265.2 119.3 264.3 121.3 263.8 121.5 263.3 120.9 263.3 120.1 264.2 118.9 264.3 118.5 263.8 117.3 263.0 116.3 262.2 115.9 260.2 116.3 258.6 116.4 257.8 116.3 257.2 115.7 257.2 114.9 257.6 111.7 257.8 111.3 258.2 111.1 258.6 111.2 259.4 111.9 261.0 113.8 261.8 114.3 262.6 114.3 263.6 112.9 263.9 110.9 264.3 110.1 265.0 109.4 266.6 108.6 266.9 108.1 267.7 105.7 267.7 103.7 268.2 103.2 269.0 102.9ZM256.7 106.5 257.8 106.8 258.0 107.3 258.0 108.5 257.4 109.1 257.0 109.2 256.2 108.9 255.7 108.5 255.3 107.7 255.4 107.3 255.8 106.8 256.7 106.5ZM267.0 121.3 267.8 121.0 268.6 121.1 269.7 121.7 270.1 122.5 270.4 124.5 270.6 125.1 271.0 125.4 271.4 125.4 273.8 124.6 274.6 124.8 275.0 125.1 275.9 126.5 276.1 127.7 275.8 128.9 275.0 130.1 274.6 130.4 273.8 130.7 271.4 129.8 270.2 130.4 269.4 131.7 269.5 134.1 269.1 135.3 268.2 136.3 265.4 138.2 264.6 138.4 262.6 138.4 261.0 138.7 258.3 139.7 256.2 140.9 255.4 141.2 254.6 141.2 251.0 140.2 250.6 139.9 250.1 138.9 249.8 136.1 250.1 135.3 250.8 134.5 253.0 132.5 254.2 131.0 255.0 130.5 255.8 130.5 257.4 131.5 258.2 131.1 258.7 130.1 259.2 127.7 259.8 126.7 261.9 125.3 264.2 123.1 265.8 123.0 267.0 121.3ZM244.5 124.5 245.4 124.5 246.6 124.9 246.9 125.3 246.9 125.7 246.6 126.1 246.1 126.1 245.5 125.7 244.5 124.5ZM236.2 128.9 237.0 128.6 237.4 128.7 239.4 130.7 242.9 132.9 243.0 133.1 242.9 134.5 241.9 137.3 242.3 138.9 242.3 139.7 241.9 140.5 240.2 142.3 237.8 145.7 237.7 146.5 238.1 148.5 237.0 150.5 236.2 151.1 235.4 151.4 233.3 150.9 232.3 152.5 231.4 152.8 230.7 152.5 230.0 150.9 228.3 149.7 227.7 148.1 226.6 146.1 226.5 144.9 227.4 143.3 229.1 141.7 229.2 139.3 229.6 138.1 232.3 134.9 232.4 131.7 232.6 130.9 233.4 130.3 235.0 130.0 236.2 128.9ZM244.1 131.3 244.6 130.9 245.0 130.9 245.4 131.2 245.8 132.1 245.8 132.5 245.6 132.9 244.6 133.0 243.8 132.6 243.7 132.1 244.1 131.3Z" fill="#b1b1b1" fill-rule="evenodd" stroke="#343434" stroke-width="0.55"/>
<path d="M265.1 114.5 265.8 114.4 266.5 114.9 266.7 115.7 266.4 116.1 265.8 116.3 265.0 116.0 264.6 115.3 265.1 114.5ZM263.5 126.1 264.2 125.8 266.2 126.2 267.8 126.1 268.4 126.5 268.9 127.3 269.0 128.5 267.4 132.9 267.6 134.5 267.1 135.3 266.6 135.5 266.2 135.6 265.8 135.3 265.7 134.5 266.0 133.3 265.8 132.9 264.6 132.2 262.6 131.8 262.3 131.3 261.6 128.5 262.7 126.9 263.5 126.1ZM260.4 132.5 261.4 132.2 261.8 132.3 261.9 132.5 261.9 133.3 260.6 136.4 260.2 136.8 259.4 136.8 258.4 136.1 258.0 135.3 258.8 133.7 259.4 133.1 260.4 132.5ZM238.8 132.9 239.8 133.1 240.4 133.7 240.7 134.5 240.2 135.1 239.4 135.3 238.6 134.8 238.3 133.7 238.4 133.3 238.8 132.9ZM254.0 133.7 254.6 133.5 255.0 133.6 256.1 134.5 256.7 135.3 256.7 135.7 256.4 136.1 255.0 137.0 254.2 137.0 253.8 136.8 252.8 135.7 252.8 134.9 253.0 134.5 254.0 133.7ZM237.8 137.7 239.0 137.8 240.0 138.9 240.3 139.7 239.7 140.9 238.6 142.4 236.9 143.7 235.0 147.2 234.6 147.3 231.4 146.9 231.0 146.5 230.8 145.7 230.9 144.9 232.1 142.1 232.1 141.3 231.5 139.3 231.8 138.2 232.2 137.9 233.0 137.7 235.8 138.0 237.8 137.7Z" fill="#707070" fill-rule="evenodd" stroke="#101010" stroke-width="0.55"/>
<ellipse cx="235.0" cy="141.0" rx="3.3" ry="8.2" transform="rotate(27 235.0 141.0)" fill="#888" stroke="#8a8a8a" stroke-width="4.0"/><ellipse cx="235.0" cy="141.0" rx="3.3" ry="8.2" transform="rotate(27 235.0 141.0)" fill="none" stroke="#000" stroke-width="1.6"/>
<ellipse cx="235.4" cy="140.6" rx="1.1" ry="5.4" transform="rotate(27 235.4 140.6)" fill="#eee" stroke="none" stroke-width="0"/>
<path d="M253.5,138.5 Q266,137 273.8,125.8" fill="none" stroke="#8a8a8a" stroke-width="4.4" stroke-linecap="round" stroke-linejoin="round"/><path d="M253.5,138.5 Q266,137 273.8,125.8" fill="none" stroke="#000" stroke-width="2.0" stroke-linecap="round" stroke-linejoin="round"/>
<path d="M256,134.5 Q266,132.5 271,127" fill="none" stroke="#fff" stroke-width="0.8" stroke-linecap="round" stroke-linejoin="round"/>
<path d="M264,102.5 Q270,100.8 273,103.5 L274,109" fill="none" stroke="#8a8a8a" stroke-width="3.9" stroke-linecap="round" stroke-linejoin="round"/><path d="M264,102.5 Q270,100.8 273,103.5 L274,109" fill="none" stroke="#111" stroke-width="1.5" stroke-linecap="round" stroke-linejoin="round"/>
</g>
<line x1="221.6" y1="124.4" x2="279.6" y2="124.4" stroke="#505050" stroke-width="1"/>
<line x1="251.1" y1="95.5" x2="251.1" y2="153.6" stroke="#505050" stroke-width="1"/>
<rect x="221.6" y="95.5" width="58.0" height="58.1" fill="none" stroke="#2a2a2a" stroke-width="1.05"/>
<text x="222.20" y="101.10" font-size="5.2" text-anchor="start" fill="#333" font-weight="normal" >2.18</text>
<text x="279.30" y="101.10" font-size="5.2" text-anchor="end" fill="#333" font-weight="normal" >32.4</text>
<text x="222.60" y="152.20" font-size="5.2" text-anchor="start" fill="#333" font-weight="normal" >28.6</text>
<text x="279.10" y="152.20" font-size="5.2" text-anchor="end" fill="#333" font-weight="normal" >36.8</text>
<text x="219.40" y="154.60" font-size="3.3" text-anchor="end" fill="#888" style="stroke:none">10<tspan dy="-1.2" font-size="2.2">0</tspan></text>
<text x="221.60" y="158.60" font-size="3.3" text-anchor="middle" fill="#888" style="stroke:none">10<tspan dy="-1.2" font-size="2.2">0</tspan></text>
<line x1="221.60" y1="153.6" x2="221.60" y2="154.79999999999998" stroke="#666" stroke-width="0.5"/>
<line x1="221.6" y1="153.60" x2="220.4" y2="153.60" stroke="#666" stroke-width="0.5"/>
<text x="219.40" y="140.07" font-size="3.3" text-anchor="end" fill="#888" style="stroke:none">10<tspan dy="-1.2" font-size="2.2">1</tspan></text>
<text x="236.10" y="158.60" font-size="3.3" text-anchor="middle" fill="#888" style="stroke:none">10<tspan dy="-1.2" font-size="2.2">1</tspan></text>
<line x1="236.10" y1="153.6" x2="236.10" y2="154.79999999999998" stroke="#666" stroke-width="0.5"/>
<line x1="221.6" y1="139.07" x2="220.4" y2="139.07" stroke="#666" stroke-width="0.5"/>
<text x="219.40" y="125.55" font-size="3.3" text-anchor="end" fill="#888" style="stroke:none">10<tspan dy="-1.2" font-size="2.2">2</tspan></text>
<text x="250.60" y="158.60" font-size="3.3" text-anchor="middle" fill="#888" style="stroke:none">10<tspan dy="-1.2" font-size="2.2">2</tspan></text>
<line x1="250.60" y1="153.6" x2="250.60" y2="154.79999999999998" stroke="#666" stroke-width="0.5"/>
<line x1="221.6" y1="124.55" x2="220.4" y2="124.55" stroke="#666" stroke-width="0.5"/>
<text x="219.40" y="111.02" font-size="3.3" text-anchor="end" fill="#888" style="stroke:none">10<tspan dy="-1.2" font-size="2.2">3</tspan></text>
<text x="265.10" y="158.60" font-size="3.3" text-anchor="middle" fill="#888" style="stroke:none">10<tspan dy="-1.2" font-size="2.2">3</tspan></text>
<line x1="265.10" y1="153.6" x2="265.10" y2="154.79999999999998" stroke="#666" stroke-width="0.5"/>
<line x1="221.6" y1="110.02" x2="220.4" y2="110.02" stroke="#666" stroke-width="0.5"/>
<text x="219.40" y="96.50" font-size="3.3" text-anchor="end" fill="#888" style="stroke:none">10<tspan dy="-1.2" font-size="2.2">4</tspan></text>
<text x="279.60" y="158.60" font-size="3.3" text-anchor="middle" fill="#888" style="stroke:none">10<tspan dy="-1.2" font-size="2.2">4</tspan></text>
<line x1="279.60" y1="153.6" x2="279.60" y2="154.79999999999998" stroke="#666" stroke-width="0.5"/>
<line x1="221.6" y1="95.50" x2="220.4" y2="95.50" stroke="#666" stroke-width="0.5"/>
<clipPath id="cp8"><rect x="314.7" y="94.8" width="57.8" height="57.5"/></clipPath>
<g clip-path="url(#cp8)">
<path d="M351.9 98.2 353.3 97.9 358.1 97.9 360.9 98.7 364.1 98.7 365.7 99.3 369.2 101.8 369.5 102.6 369.1 105.4 369.4 106.6 370.1 107.3 372.1 107.8 373.3 108.7 373.3 121.5 372.5 122.2 372.4 122.6 372.6 123.4 373.3 124.3 373.3 127.4 368.5 131.4 367.9 132.2 367.4 134.2 366.8 135.0 366.1 135.4 363.7 136.2 357.5 141.8 356.1 142.6 353.9 143.4 351.7 144.8 348.9 144.9 346.1 145.5 345.3 145.9 343.3 147.7 342.1 148.1 340.5 147.8 338.5 146.7 337.7 146.4 336.1 146.3 334.9 146.5 334.1 147.0 333.7 147.4 332.8 149.4 330.2 153.0 314.1 153.0 313.9 151.8 315.3 149.0 315.5 146.6 315.4 145.0 314.7 143.0 314.7 141.8 315.0 141.0 316.5 139.0 318.9 134.2 319.3 133.0 319.7 130.6 320.2 129.4 321.7 127.0 322.9 126.1 326.6 123.8 330.5 119.1 331.3 118.5 333.7 117.7 334.7 117.0 336.2 114.2 338.5 112.2 338.8 111.0 338.5 109.8 337.1 107.0 336.8 105.8 336.8 105.0 337.1 104.2 339.7 101.4 340.9 100.7 346.5 99.5 349.2 99.4 351.9 98.2Z" fill="#fcfcfc" fill-rule="evenodd" stroke="#989898" stroke-width="0.55"/>
<path d="M352.0 99.0 353.3 98.7 357.7 98.6 360.9 99.4 362.9 99.2 364.1 99.3 365.7 100.1 367.8 102.2 368.3 103.4 368.2 107.8 367.9 108.6 367.2 109.4 367.1 110.2 367.2 113.0 367.7 114.2 368.9 115.5 370.1 115.5 371.2 114.6 372.1 112.3 372.5 112.0 373.3 112.1 373.3 120.4 371.7 121.1 370.9 122.1 370.5 124.2 369.8 125.8 370.0 127.4 369.8 128.6 368.5 129.9 365.7 131.4 365.3 131.9 365.0 133.4 364.5 134.2 362.9 135.3 358.5 139.3 356.8 140.2 355.2 141.8 352.1 143.5 350.9 143.8 348.1 144.0 345.3 143.7 344.2 143.8 343.1 144.6 342.5 146.2 341.7 146.6 339.3 145.4 335.7 144.0 334.5 144.0 333.3 144.8 330.8 150.2 329.3 152.0 328.2 153.0 316.0 153.0 315.7 152.2 316.5 150.6 316.7 149.4 316.0 142.6 316.4 141.8 317.7 140.5 318.3 139.4 319.7 134.8 320.4 131.4 320.9 130.3 321.7 129.4 322.9 127.5 323.7 126.7 324.9 126.0 327.3 125.3 328.1 124.8 329.3 122.2 330.9 120.4 332.1 119.7 335.9 118.6 336.5 118.2 337.3 115.6 339.4 113.4 340.1 111.8 339.5 108.6 338.1 106.2 338.0 105.4 338.5 104.4 341.7 101.8 342.5 101.4 346.1 100.4 349.3 100.3 352.0 99.0ZM340.1 119.4 339.2 119.8 339.2 120.2 340.1 120.4 340.7 120.2 341.0 119.8 340.9 119.4 340.1 119.4Z" fill="#f5f5f5" fill-rule="evenodd" stroke="#7a7a7a" stroke-width="0.55"/>
<path d="M352.4 99.8 353.7 99.7 355.7 99.9 358.1 99.6 360.5 100.3 363.7 99.9 364.5 100.2 365.3 100.7 366.8 102.6 367.3 104.2 367.1 106.6 366.5 107.5 364.6 108.6 364.6 109.0 365.6 111.0 365.7 113.4 365.8 113.8 367.0 115.4 367.4 116.2 367.5 118.2 367.7 119.0 368.5 119.8 369.5 120.2 369.7 120.6 369.6 121.4 368.5 123.4 368.1 124.6 368.1 125.8 368.7 127.8 368.4 128.6 367.7 129.2 365.3 130.0 364.5 130.5 363.7 131.4 362.8 133.4 360.4 136.2 358.1 138.0 355.9 138.2 355.3 138.5 354.0 141.0 352.1 142.4 350.9 142.8 348.9 143.0 345.7 142.5 343.7 142.5 342.9 142.7 341.3 143.8 340.5 144.0 339.7 143.8 339.2 143.4 338.9 143.0 338.8 142.2 339.4 141.4 341.3 140.5 341.9 139.8 341.8 136.6 342.7 133.8 342.5 132.6 342.1 131.7 341.7 131.3 341.3 131.2 340.9 131.4 338.3 134.2 337.5 136.2 336.9 137.0 335.3 138.0 334.5 138.8 334.3 139.4 334.0 141.8 332.1 144.1 330.4 147.0 329.9 149.0 329.3 149.9 327.7 151.0 326.5 152.3 325.6 153.0 322.6 153.0 321.7 152.7 319.3 152.5 318.6 152.2 318.2 151.8 317.9 151.0 317.6 146.6 317.6 143.8 318.9 141.6 320.4 137.4 320.7 134.2 321.3 132.2 322.7 130.2 323.7 128.2 324.4 127.4 325.3 126.8 327.7 126.3 328.7 125.8 330.7 123.4 332.1 122.5 333.7 120.7 334.5 120.3 335.7 120.3 338.1 121.8 339.7 122.1 340.9 122.0 344.1 121.0 345.3 120.3 345.7 119.4 345.3 118.1 343.3 115.7 341.7 115.0 341.3 114.5 341.5 111.4 340.6 107.4 340.0 105.8 340.1 105.4 342.5 102.8 343.7 102.0 346.1 101.1 349.3 101.1 352.4 99.8ZM360.1 103.4 359.4 103.8 359.3 104.6 359.7 105.8 360.1 106.1 360.5 106.2 361.3 105.8 361.7 105.2 361.7 104.6 361.3 103.8 360.1 103.4ZM348.5 123.4 347.5 123.8 346.4 124.6 346.2 125.0 346.1 125.4 346.5 125.8 348.3 125.8 349.7 125.4 350.1 125.0 350.2 124.6 349.8 123.8 349.3 123.5 348.5 123.4ZM372.0 117.8 372.5 117.6 373.3 117.7 373.3 119.1 372.5 119.3 371.5 119.0 371.6 118.2 372.0 117.8Z" fill="#dddddd" fill-rule="evenodd" stroke="#585858" stroke-width="0.55"/>
<path d="M362.9 101.0 363.7 100.9 364.5 101.3 365.8 103.0 366.3 104.2 366.3 105.0 366.1 105.8 365.7 106.2 365.3 106.4 364.5 106.4 363.7 105.8 363.0 103.8 362.0 101.8 362.2 101.4 362.9 101.0ZM345.5 102.2 346.9 102.0 349.7 102.5 351.3 102.1 351.9 102.2 351.4 103.0 349.7 104.0 348.6 105.0 348.1 105.8 348.2 106.2 349.3 107.1 351.3 109.6 352.1 110.3 352.9 110.5 354.5 110.5 356.5 111.6 359.3 112.0 360.1 112.5 360.5 113.0 360.6 113.8 360.4 114.6 359.1 115.8 357.9 117.8 355.3 120.3 354.5 120.4 352.1 119.9 351.3 119.6 349.7 118.7 348.1 118.2 346.9 117.4 345.9 116.2 345.6 115.0 346.2 113.0 346.3 110.6 347.0 106.2 346.5 105.8 345.7 105.5 343.4 105.4 343.2 105.0 343.4 104.2 343.8 103.4 344.7 102.6 345.5 102.2ZM356.0 105.8 356.9 105.5 357.3 105.8 357.4 107.0 356.5 108.1 355.7 108.5 355.3 108.4 354.6 107.8 354.6 107.0 356.0 105.8ZM362.1 111.0 362.5 110.8 362.9 110.8 363.3 111.0 363.6 111.4 363.3 111.9 362.5 111.9 362.1 111.6 362.1 111.0ZM361.6 116.2 362.5 115.9 364.9 115.9 365.6 116.2 365.9 116.6 366.6 120.2 366.3 122.6 367.2 127.4 367.1 127.8 366.5 128.3 364.3 128.6 363.3 129.2 361.3 131.7 359.3 133.4 359.4 134.6 359.2 135.4 358.1 136.5 357.3 136.7 356.8 136.6 356.3 136.2 356.1 135.4 356.8 133.4 356.5 133.1 355.7 133.1 354.5 133.8 353.9 134.6 353.6 135.4 353.6 137.8 353.4 139.0 352.5 140.3 351.3 141.1 350.1 141.4 349.3 141.1 349.0 140.6 348.8 138.6 348.5 138.2 347.5 137.8 346.1 137.6 345.5 138.2 344.9 139.2 344.5 139.3 343.6 138.2 343.4 137.0 343.8 136.2 345.5 134.6 346.1 133.4 346.3 131.8 346.2 129.4 346.5 128.3 347.3 127.8 348.5 127.9 349.2 128.6 349.2 131.0 349.7 131.2 350.5 130.7 350.8 130.2 350.9 128.2 351.5 127.4 354.1 124.7 355.6 123.4 356.5 122.1 358.9 121.6 359.7 121.0 360.1 120.2 360.7 117.8 361.6 116.2ZM334.5 121.8 335.3 121.7 336.1 122.0 338.1 123.4 338.9 124.2 339.9 126.2 340.1 127.0 339.9 128.2 339.2 129.8 338.5 131.0 337.0 133.0 336.0 135.0 334.5 136.6 333.4 138.2 333.1 139.0 332.7 141.0 332.4 141.8 330.2 145.0 328.6 146.6 327.3 149.0 325.7 150.7 324.5 151.4 323.7 151.4 321.7 150.9 319.7 150.8 319.3 150.4 319.1 149.8 319.1 146.6 319.8 144.2 320.1 141.8 320.6 139.8 322.1 137.0 321.8 134.6 322.1 133.4 323.9 131.4 324.6 129.0 325.2 128.2 326.1 127.7 327.7 127.5 328.5 127.1 332.6 123.8 334.5 121.8Z" fill="#b1b1b1" fill-rule="evenodd" stroke="#343434" stroke-width="0.55"/>
<path d="M348.7 110.6 349.1 110.6 349.6 111.0 350.1 111.8 350.1 112.2 349.7 112.4 348.9 111.9 348.5 111.0 348.7 110.6ZM352.1 113.4 352.9 113.2 353.7 113.4 354.8 114.6 355.5 116.6 355.3 117.4 354.9 117.9 354.5 118.1 353.7 118.1 352.9 117.7 352.4 117.0 351.6 114.6 351.7 113.8 352.1 113.4ZM363.3 118.2 364.1 118.3 364.7 119.4 364.6 120.2 363.6 121.4 363.4 122.2 364.4 125.0 364.1 125.7 363.7 125.9 361.7 126.2 361.3 126.5 360.2 129.8 359.4 130.6 358.5 130.8 356.5 130.7 354.5 131.0 353.7 130.9 353.3 130.5 352.8 129.4 352.8 128.6 353.0 128.2 355.7 125.8 356.5 125.3 357.7 124.9 359.7 124.6 360.5 124.2 362.0 121.4 362.5 119.0 363.3 118.2ZM334.7 123.4 335.3 123.2 335.7 123.4 336.1 123.9 336.7 125.4 338.2 127.0 338.3 127.8 338.0 129.0 335.1 133.0 333.7 134.4 332.9 136.6 330.1 141.2 329.1 144.2 328.5 145.0 326.4 146.6 324.9 148.4 324.1 148.7 323.3 148.6 322.0 147.4 321.5 146.6 321.4 142.2 321.6 141.0 322.1 140.0 322.9 139.6 324.5 139.3 325.2 138.6 325.1 137.4 324.0 135.0 324.1 134.2 325.4 132.2 326.1 130.0 326.5 129.4 328.9 128.6 330.5 126.6 333.3 124.7 334.7 123.4Z" fill="#707070" fill-rule="evenodd" stroke="#101010" stroke-width="0.55"/>
<path d="M321.8,147 Q324,139 327.5,132.5 Q329.5,129 331,127.5" fill="none" stroke="#8a8a8a" stroke-width="3.9" stroke-linecap="round" stroke-linejoin="round"/><path d="M321.8,147 Q324,139 327.5,132.5 Q329.5,129 331,127.5" fill="none" stroke="#000" stroke-width="1.5" stroke-linecap="round" stroke-linejoin="round"/>
<path d="M329.5,145.5 Q331.5,141 333.5,137.5" fill="none" stroke="#111" stroke-width="1.3" stroke-linecap="round" stroke-linejoin="round"/>
<path d="M326,143 L331,132" fill="none" stroke="#eee" stroke-width="0.8" stroke-linecap="round" stroke-linejoin="round"/>
<path d="M348.3,137.4 Q359,136 365,123.4" fill="none" stroke="#8a8a8a" stroke-width="4.4" stroke-linecap="round" stroke-linejoin="round"/><path d="M348.3,137.4 Q359,136 365,123.4" fill="none" stroke="#000" stroke-width="2.0" stroke-linecap="round" stroke-linejoin="round"/>
<path d="M351,133.5 Q359,131.5 363,126" fill="none" stroke="#fff" stroke-width="0.8" stroke-linecap="round" stroke-linejoin="round"/>
<path d="M341,105.5 Q352,101 362,101 L365,106" fill="none" stroke="#222" stroke-width="1.3" stroke-linecap="round" stroke-linejoin="round"/>
</g>
<line x1="314.7" y1="123.3" x2="372.5" y2="123.3" stroke="#505050" stroke-width="1"/>
<line x1="343.5" y1="94.8" x2="343.5" y2="152.3" stroke="#505050" stroke-width="1"/>
<rect x="314.7" y="94.8" width="57.8" height="57.5" fill="none" stroke="#2a2a2a" stroke-width="1.05"/>
<text x="315.30" y="100.40" font-size="5.2" text-anchor="start" fill="#333" font-weight="normal" >3.44</text>
<text x="372.20" y="100.40" font-size="5.2" text-anchor="end" fill="#333" font-weight="normal" >28.0</text>
<text x="315.70" y="150.90" font-size="5.2" text-anchor="start" fill="#333" font-weight="normal" >42.6</text>
<text x="372.00" y="150.90" font-size="5.2" text-anchor="end" fill="#333" font-weight="normal" >25.9</text>
<text x="312.50" y="153.30" font-size="3.3" text-anchor="end" fill="#888" style="stroke:none">10<tspan dy="-1.2" font-size="2.2">0</tspan></text>
<text x="314.70" y="157.30" font-size="3.3" text-anchor="middle" fill="#888" style="stroke:none">10<tspan dy="-1.2" font-size="2.2">0</tspan></text>
<line x1="314.70" y1="152.3" x2="314.70" y2="153.5" stroke="#666" stroke-width="0.5"/>
<line x1="314.7" y1="152.30" x2="313.5" y2="152.30" stroke="#666" stroke-width="0.5"/>
<text x="312.50" y="138.93" font-size="3.3" text-anchor="end" fill="#888" style="stroke:none">10<tspan dy="-1.2" font-size="2.2">1</tspan></text>
<text x="329.15" y="157.30" font-size="3.3" text-anchor="middle" fill="#888" style="stroke:none">10<tspan dy="-1.2" font-size="2.2">1</tspan></text>
<line x1="329.15" y1="152.3" x2="329.15" y2="153.5" stroke="#666" stroke-width="0.5"/>
<line x1="314.7" y1="137.93" x2="313.5" y2="137.93" stroke="#666" stroke-width="0.5"/>
<text x="312.50" y="124.55" font-size="3.3" text-anchor="end" fill="#888" style="stroke:none">10<tspan dy="-1.2" font-size="2.2">2</tspan></text>
<text x="343.60" y="157.30" font-size="3.3" text-anchor="middle" fill="#888" style="stroke:none">10<tspan dy="-1.2" font-size="2.2">2</tspan></text>
<line x1="343.60" y1="152.3" x2="343.60" y2="153.5" stroke="#666" stroke-width="0.5"/>
<line x1="314.7" y1="123.55" x2="313.5" y2="123.55" stroke="#666" stroke-width="0.5"/>
<text x="312.50" y="110.18" font-size="3.3" text-anchor="end" fill="#888" style="stroke:none">10<tspan dy="-1.2" font-size="2.2">3</tspan></text>
<text x="358.05" y="157.30" font-size="3.3" text-anchor="middle" fill="#888" style="stroke:none">10<tspan dy="-1.2" font-size="2.2">3</tspan></text>
<line x1="358.05" y1="152.3" x2="358.05" y2="153.5" stroke="#666" stroke-width="0.5"/>
<line x1="314.7" y1="109.18" x2="313.5" y2="109.18" stroke="#666" stroke-width="0.5"/>
<text x="312.50" y="95.80" font-size="3.3" text-anchor="end" fill="#888" style="stroke:none">10<tspan dy="-1.2" font-size="2.2">4</tspan></text>
<text x="372.50" y="157.30" font-size="3.3" text-anchor="middle" fill="#888" style="stroke:none">10<tspan dy="-1.2" font-size="2.2">4</tspan></text>
<line x1="372.50" y1="152.3" x2="372.50" y2="153.5" stroke="#666" stroke-width="0.5"/>
<line x1="314.7" y1="94.80" x2="313.5" y2="94.80" stroke="#666" stroke-width="0.5"/>
<clipPath id="cp9"><rect x="402.8" y="94.8" width="57.8" height="57.6"/></clipPath>
<g clip-path="url(#cp9)">
<path d="M444.8 96.6 445.4 96.7 446.7 97.4 449.4 98.0 453.5 99.4 454.6 100.2 457.5 103.0 457.6 103.8 457.2 105.0 457.1 105.8 457.6 106.6 459.3 108.2 459.7 109.0 460.2 112.2 461.4 115.9 461.4 125.5 457.7 129.8 455.8 131.6 454.3 134.6 451.9 137.0 448.9 139.0 446.7 141.0 444.2 142.9 443.0 143.5 440.6 144.2 440.0 144.6 439.3 145.4 438.4 147.8 437.4 148.7 436.2 148.9 433.8 148.8 431.8 149.3 430.2 148.9 427.8 150.5 424.6 151.0 423.8 151.4 422.2 152.6 421.4 152.9 420.6 152.6 420.3 152.2 420.3 151.8 421.9 150.2 422.1 149.8 422.1 149.0 421.4 147.9 420.6 147.7 419.8 147.9 419.0 148.7 418.7 149.8 418.7 151.8 418.1 153.0 401.8 153.0 401.8 142.5 403.1 139.4 404.7 136.6 406.4 134.2 408.0 129.4 408.6 128.6 411.1 127.0 412.8 124.6 416.2 121.4 417.8 120.3 419.4 119.7 419.8 119.4 420.2 118.7 420.6 117.3 420.8 113.8 420.6 113.0 420.0 111.8 419.9 110.6 420.4 107.0 420.9 105.4 421.5 104.2 423.8 101.4 425.0 100.5 425.8 100.3 426.6 100.5 429.0 101.8 429.6 101.8 431.4 100.4 434.0 99.8 435.8 98.6 437.0 98.6 439.4 99.3 440.6 99.2 441.8 98.5 443.8 96.9 444.8 96.6Z" fill="#fcfcfc" fill-rule="evenodd" stroke="#989898" stroke-width="0.55"/>
<path d="M443.5 99.0 444.2 98.8 445.8 99.0 447.8 98.7 449.0 98.7 451.8 100.0 452.9 101.0 454.8 104.2 454.6 106.6 454.8 107.0 456.7 108.2 457.5 109.4 457.7 111.4 458.9 113.8 459.0 116.5 459.3 117.4 459.8 117.8 461.4 118.4 461.4 123.6 459.2 125.4 457.1 129.0 454.8 131.4 453.2 133.8 451.0 136.2 447.0 139.0 443.8 142.1 442.6 142.6 440.2 142.6 439.3 143.0 437.5 145.0 436.9 147.0 436.6 147.4 435.4 147.7 433.4 147.6 430.2 146.4 429.0 146.3 427.0 146.6 425.4 146.1 424.9 145.4 425.0 143.0 424.9 142.2 424.6 141.7 423.8 141.4 423.0 141.8 422.6 142.3 420.9 145.4 419.0 147.0 418.4 147.8 417.8 149.2 416.9 153.0 402.9 153.0 402.4 149.0 402.3 146.6 401.9 145.0 402.0 144.2 403.8 140.2 405.8 137.0 407.4 135.0 409.4 129.9 409.9 129.4 412.0 128.2 413.5 127.0 415.2 124.2 416.6 123.0 417.8 122.6 419.8 123.2 420.6 123.3 422.0 122.6 422.8 121.8 422.9 119.0 424.0 117.0 422.8 115.0 422.4 113.0 421.5 111.0 421.4 110.2 422.2 108.2 422.7 105.4 424.2 102.7 425.0 101.9 426.2 101.7 427.0 102.0 429.0 103.6 430.2 103.7 431.0 103.3 432.2 102.2 433.4 101.7 435.4 101.3 437.8 101.6 439.8 101.3 443.5 99.0ZM431.8 128.1 431.0 128.8 430.6 129.4 430.4 130.2 430.4 131.0 430.6 131.4 431.0 131.7 433.0 131.9 433.4 131.7 433.8 131.1 433.9 129.8 433.4 129.0 432.6 128.3 431.8 128.1Z" fill="#f5f5f5" fill-rule="evenodd" stroke="#7a7a7a" stroke-width="0.55"/>
<path d="M447.0 99.8 448.2 99.5 449.4 99.6 451.1 100.6 452.2 101.8 453.2 103.8 453.4 105.0 453.2 105.8 452.6 106.8 451.0 107.9 450.9 108.2 451.0 108.9 451.8 109.7 453.8 110.0 454.2 110.2 455.2 114.6 457.0 116.3 457.6 119.0 458.2 119.6 460.2 120.5 460.6 121.0 460.6 121.8 460.3 122.2 457.9 124.2 457.2 125.0 456.0 128.2 455.2 129.4 453.4 131.2 451.1 132.6 450.8 133.0 450.3 134.6 449.8 135.2 448.2 136.1 446.2 137.6 444.6 138.3 444.2 139.0 444.0 140.2 443.4 141.1 442.2 141.6 439.4 141.4 438.6 141.8 437.0 142.9 435.4 143.1 434.9 143.8 434.6 145.4 434.2 146.0 433.8 146.1 433.0 146.0 427.6 143.4 427.1 142.6 427.1 141.8 427.5 141.0 428.7 139.4 428.9 138.6 428.6 138.1 427.0 137.4 425.8 137.4 424.6 138.1 422.1 140.6 419.7 144.2 417.9 146.6 416.6 150.2 416.0 153.0 404.1 153.0 403.4 144.6 404.5 141.0 406.6 137.9 409.8 133.8 411.2 130.6 414.8 127.4 416.2 125.2 416.9 124.6 417.4 124.4 418.2 124.5 419.5 125.4 420.2 125.7 422.2 125.5 423.4 125.8 425.0 126.4 427.8 127.9 428.3 128.2 428.8 129.0 428.8 131.8 429.0 132.5 429.4 133.0 433.4 134.6 434.2 134.6 434.9 134.2 435.9 129.8 435.9 129.0 435.5 127.8 435.8 127.0 437.6 125.4 438.9 123.4 441.8 122.2 443.3 121.0 443.5 120.6 443.5 120.2 442.8 119.4 441.4 118.9 440.2 119.2 438.6 120.6 437.8 121.1 436.6 120.8 435.4 119.7 434.6 119.3 432.2 119.6 429.8 119.4 428.2 120.1 427.4 120.0 427.0 119.5 427.0 119.0 427.9 117.8 428.2 116.6 428.0 110.2 428.6 109.4 429.9 108.2 430.7 106.6 432.2 104.6 433.8 103.1 435.0 102.8 437.4 102.8 439.4 102.5 440.6 102.1 443.4 100.3 445.8 100.1 447.0 99.8ZM433.8 106.0 433.1 106.6 433.3 107.0 434.2 107.4 434.6 107.3 434.9 107.0 434.7 106.2 434.2 106.0 433.8 106.0ZM426.1 105.0 426.2 105.0 426.1 105.0ZM425.7 105.4 425.8 105.2 425.8 105.4 425.7 105.4ZM424.6 110.2 425.3 110.6 425.6 111.0 425.7 111.8 425.4 112.5 424.6 112.1 423.8 111.0 423.8 110.6 424.2 110.3 424.6 110.2Z" fill="#dddddd" fill-rule="evenodd" stroke="#585858" stroke-width="0.55"/>
<path d="M447.6 100.6 449.0 100.4 450.1 101.0 451.2 102.2 452.1 103.8 452.3 104.6 451.9 105.4 451.4 105.7 449.0 106.3 448.3 107.0 448.1 107.8 448.4 108.6 449.8 111.0 449.9 111.8 449.6 113.0 449.7 113.4 451.4 113.8 452.2 114.5 453.2 117.0 453.2 117.8 453.0 118.2 452.6 118.5 452.2 118.5 450.6 117.3 449.4 116.9 445.8 117.7 441.8 117.0 440.8 116.6 439.5 115.0 438.6 114.6 437.8 114.8 436.2 115.9 433.8 116.4 432.2 117.1 431.4 117.2 430.6 116.6 430.3 115.4 430.2 112.6 430.3 111.8 431.0 111.0 432.2 110.4 433.0 110.3 433.6 110.6 434.9 112.2 435.8 112.5 436.6 112.3 437.2 111.4 437.7 110.2 437.8 109.4 436.8 106.6 436.6 105.4 436.7 104.6 437.8 104.1 439.4 104.0 440.3 104.2 440.7 105.0 441.0 105.2 441.4 105.1 441.0 104.2 441.1 103.8 441.9 102.6 442.7 101.8 443.8 101.3 446.2 101.1 447.6 100.6ZM444.6 108.9 443.8 109.3 442.2 110.6 441.9 111.0 441.9 111.4 442.2 111.7 443.0 111.8 445.0 111.5 445.9 111.0 446.2 110.2 446.0 109.4 445.4 109.0 444.6 108.9ZM456.0 121.8 457.0 121.7 457.3 122.2 456.6 123.0 455.8 123.4 455.5 123.0 455.6 122.6 456.0 121.8ZM447.7 122.2 448.2 122.0 449.0 122.0 450.1 122.2 450.5 122.6 451.0 124.2 451.7 125.8 451.8 127.0 451.4 128.3 450.6 129.1 449.0 131.3 447.9 133.8 446.8 135.4 446.2 136.0 445.4 136.4 443.4 136.6 443.0 136.8 442.6 137.4 442.4 139.4 441.8 140.1 439.0 140.3 437.0 140.8 434.6 140.3 434.1 140.6 433.0 142.4 432.2 143.2 431.0 143.2 430.2 142.8 429.9 142.2 430.1 141.0 432.8 137.4 433.3 137.0 435.8 136.2 437.5 135.0 437.6 134.6 436.7 133.0 436.8 131.8 437.3 130.6 438.7 128.6 439.5 126.6 440.6 125.1 441.6 124.2 442.6 123.7 443.4 123.6 443.8 123.8 444.3 124.6 444.2 127.2 444.6 127.4 445.4 127.3 446.2 126.9 446.7 126.2 447.0 125.4 447.0 123.4 447.3 122.6 447.7 122.2ZM443.4 128.0 443.0 128.3 442.7 129.0 442.9 129.8 443.4 130.1 443.9 129.8 444.1 129.0 443.8 127.9 443.4 128.0ZM421.6 127.0 422.6 127.0 423.4 127.4 425.0 128.8 426.6 129.6 427.0 130.2 426.6 130.7 425.4 130.4 424.6 130.5 423.8 131.0 423.4 131.4 423.2 132.2 423.3 132.6 424.6 134.2 424.8 134.6 424.8 135.4 424.4 136.2 421.7 139.4 418.9 141.8 418.2 143.1 416.8 145.0 416.2 148.2 414.8 153.0 405.6 153.0 405.4 151.8 405.7 149.4 405.2 142.6 405.5 141.0 406.6 139.6 409.0 137.4 410.8 135.0 411.3 134.2 412.1 131.8 414.2 129.4 417.4 127.1 419.8 127.4 421.6 127.0Z" fill="#b1b1b1" fill-rule="evenodd" stroke="#343434" stroke-width="0.55"/>
<path d="M444.4 103.0 445.0 102.8 445.5 103.0 445.4 103.4 445.0 103.5 444.5 103.4 444.4 103.0ZM417.0 129.4 418.2 129.0 421.5 129.4 421.4 129.8 420.1 131.8 419.4 133.4 418.8 133.8 417.1 134.2 416.8 134.6 416.7 135.0 416.8 135.8 417.4 136.6 420.2 137.1 420.6 137.4 420.5 138.2 420.2 138.6 419.4 139.0 416.6 138.4 416.0 139.0 415.4 140.6 415.0 141.4 412.6 142.6 412.6 143.4 414.2 145.4 414.6 146.2 414.8 147.4 414.7 148.6 413.8 149.9 411.6 150.6 411.5 152.2 411.2 153.0 408.8 153.0 408.5 152.2 408.7 150.6 407.6 149.0 407.1 147.8 407.1 146.6 407.4 144.6 407.2 143.8 406.6 142.6 406.6 141.4 407.0 140.8 407.8 140.2 409.8 139.4 410.4 139.0 412.2 136.2 413.4 133.2 414.9 131.0 415.7 130.2 417.0 129.4ZM446.1 131.0 446.6 131.0 446.7 131.4 446.3 133.4 445.6 134.6 445.0 134.8 444.6 134.8 444.0 134.2 444.0 133.4 446.1 131.0ZM439.8 131.4 440.6 131.3 441.4 131.8 442.0 132.6 442.0 133.0 441.4 133.3 440.6 133.1 439.9 132.6 439.4 131.8 439.8 131.4ZM438.5 137.8 439.8 137.4 440.4 137.8 440.3 138.2 439.8 138.5 439.0 138.4 438.5 138.2 438.5 137.8Z" fill="#707070" fill-rule="evenodd" stroke="#101010" stroke-width="0.55"/>
<path d="M408.5,150 Q411,142 414.7,136.5" fill="none" stroke="#8a8a8a" stroke-width="4.0" stroke-linecap="round" stroke-linejoin="round"/><path d="M408.5,150 Q411,142 414.7,136.5" fill="none" stroke="#000" stroke-width="1.6" stroke-linecap="round" stroke-linejoin="round"/>
<path d="M417,148.2 Q419.5,142 421.6,137.8" fill="none" stroke="#000" stroke-width="1.5" stroke-linecap="round" stroke-linejoin="round"/>
<path d="M413,147 L418,135" fill="none" stroke="#eee" stroke-width="0.8" stroke-linecap="round" stroke-linejoin="round"/>
<path d="M434.3,139.6 Q447,137.5 453.3,123.4" fill="none" stroke="#8a8a8a" stroke-width="4.5" stroke-linecap="round" stroke-linejoin="round"/><path d="M434.3,139.6 Q447,137.5 453.3,123.4" fill="none" stroke="#000" stroke-width="2.1" stroke-linecap="round" stroke-linejoin="round"/>
<path d="M437,135.5 Q446,133 451,126" fill="none" stroke="#fff" stroke-width="0.8" stroke-linecap="round" stroke-linejoin="round"/>
<path d="M444.7,102.6 Q451,103 451.6,109" fill="none" stroke="#8a8a8a" stroke-width="4.0" stroke-linecap="round" stroke-linejoin="round"/><path d="M444.7,102.6 Q451,103 451.6,109" fill="none" stroke="#000" stroke-width="1.6" stroke-linecap="round" stroke-linejoin="round"/>
<path d="M430,105 Q438,101.5 445,102" fill="none" stroke="#444" stroke-width="1.1" stroke-linecap="round" stroke-linejoin="round"/>
</g>
<line x1="402.8" y1="123.6" x2="460.6" y2="123.6" stroke="#505050" stroke-width="1"/>
<line x1="431.6" y1="94.8" x2="431.6" y2="152.4" stroke="#505050" stroke-width="1"/>
<rect x="402.8" y="94.8" width="57.8" height="57.6" fill="none" stroke="#2a2a2a" stroke-width="1.05"/>
<text x="403.40" y="100.40" font-size="5.2" text-anchor="start" fill="#333" font-weight="normal" >4.13</text>
<text x="460.30" y="100.40" font-size="5.2" text-anchor="end" fill="#333" font-weight="normal" >29.2</text>
<text x="403.80" y="151.00" font-size="5.2" text-anchor="start" fill="#333" font-weight="normal" >30.9</text>
<text x="460.10" y="151.00" font-size="5.2" text-anchor="end" fill="#333" font-weight="normal" >35.6</text>
<text x="400.60" y="153.40" font-size="3.3" text-anchor="end" fill="#888" style="stroke:none">10<tspan dy="-1.2" font-size="2.2">0</tspan></text>
<text x="402.80" y="157.40" font-size="3.3" text-anchor="middle" fill="#888" style="stroke:none">10<tspan dy="-1.2" font-size="2.2">0</tspan></text>
<line x1="402.80" y1="152.4" x2="402.80" y2="153.6" stroke="#666" stroke-width="0.5"/>
<line x1="402.8" y1="152.40" x2="401.6" y2="152.40" stroke="#666" stroke-width="0.5"/>
<text x="400.60" y="139.00" font-size="3.3" text-anchor="end" fill="#888" style="stroke:none">10<tspan dy="-1.2" font-size="2.2">1</tspan></text>
<text x="417.25" y="157.40" font-size="3.3" text-anchor="middle" fill="#888" style="stroke:none">10<tspan dy="-1.2" font-size="2.2">1</tspan></text>
<line x1="417.25" y1="152.4" x2="417.25" y2="153.6" stroke="#666" stroke-width="0.5"/>
<line x1="402.8" y1="138.00" x2="401.6" y2="138.00" stroke="#666" stroke-width="0.5"/>
<text x="400.60" y="124.60" font-size="3.3" text-anchor="end" fill="#888" style="stroke:none">10<tspan dy="-1.2" font-size="2.2">2</tspan></text>
<text x="431.70" y="157.40" font-size="3.3" text-anchor="middle" fill="#888" style="stroke:none">10<tspan dy="-1.2" font-size="2.2">2</tspan></text>
<line x1="431.70" y1="152.4" x2="431.70" y2="153.6" stroke="#666" stroke-width="0.5"/>
<line x1="402.8" y1="123.60" x2="401.6" y2="123.60" stroke="#666" stroke-width="0.5"/>
<text x="400.60" y="110.20" font-size="3.3" text-anchor="end" fill="#888" style="stroke:none">10<tspan dy="-1.2" font-size="2.2">3</tspan></text>
<text x="446.15" y="157.40" font-size="3.3" text-anchor="middle" fill="#888" style="stroke:none">10<tspan dy="-1.2" font-size="2.2">3</tspan></text>
<line x1="446.15" y1="152.4" x2="446.15" y2="153.6" stroke="#666" stroke-width="0.5"/>
<line x1="402.8" y1="109.20" x2="401.6" y2="109.20" stroke="#666" stroke-width="0.5"/>
<text x="400.60" y="95.80" font-size="3.3" text-anchor="end" fill="#888" style="stroke:none">10<tspan dy="-1.2" font-size="2.2">4</tspan></text>
<text x="460.60" y="157.40" font-size="3.3" text-anchor="middle" fill="#888" style="stroke:none">10<tspan dy="-1.2" font-size="2.2">4</tspan></text>
<line x1="460.60" y1="152.4" x2="460.60" y2="153.6" stroke="#666" stroke-width="0.5"/>
<line x1="402.8" y1="94.80" x2="401.6" y2="94.80" stroke="#666" stroke-width="0.5"/>
</g>
<text x="-0.10" y="217.60" font-size="18.3" text-anchor="start" fill="#000" font-weight="bold" >B</text>
<rect x="43.75" y="226" width="182.75" height="117.19999999999999" fill="none" stroke="#8a8a8a" stroke-width="1"/>
<text x="40.00" y="345.00" font-size="7" text-anchor="end" fill="#111" font-weight="normal" >0</text>
<text x="40.00" y="328.40" font-size="7" text-anchor="end" fill="#111" font-weight="normal" >20</text>
<text x="40.00" y="311.80" font-size="7" text-anchor="end" fill="#111" font-weight="normal" >40</text>
<text x="40.00" y="295.20" font-size="7" text-anchor="end" fill="#111" font-weight="normal" >60</text>
<text x="40.00" y="278.60" font-size="7" text-anchor="end" fill="#111" font-weight="normal" >80</text>
<text x="40.00" y="262.00" font-size="7" text-anchor="end" fill="#111" font-weight="normal" >100</text>
<text x="40.00" y="245.40" font-size="7" text-anchor="end" fill="#111" font-weight="normal" >120</text>
<text x="40.00" y="228.80" font-size="7" text-anchor="end" fill="#111" font-weight="normal" >140</text>
<text x="43.20" y="351.60" font-size="7" text-anchor="middle" fill="#111" font-weight="normal" >d0</text>
<text x="116.50" y="351.60" font-size="7" text-anchor="middle" fill="#111" font-weight="normal" >d5</text>
<text x="208.30" y="351.60" font-size="7" text-anchor="middle" fill="#111" font-weight="normal" >d10</text>
<text x="131.90" y="369.50" font-size="7.3" text-anchor="middle" fill="#111" font-weight="normal" >time after transduction</text>
<text transform="translate(20.3,283.9) rotate(-90)" font-size="6.85" text-anchor="middle" fill="#111">Viability / control (%)</text>
<text x="219.80" y="240.30" font-size="7.2" text-anchor="end" fill="#111" font-weight="normal" >(9;11) MOLM-14</text>
<line x1="80.4" y1="233.35500000000002" x2="80.4" y2="225.885" stroke="#222" stroke-width="0.9"/>
<line x1="78.80000000000001" y1="233.35500000000002" x2="82.0" y2="233.35500000000002" stroke="#222" stroke-width="0.9"/>
<line x1="78.80000000000001" y1="225.885" x2="82.0" y2="225.885" stroke="#222" stroke-width="0.9"/>
<line x1="80.4" y1="254.52" x2="80.4" y2="246.22" stroke="#222" stroke-width="0.9"/>
<line x1="78.80000000000001" y1="254.52" x2="82.0" y2="254.52" stroke="#222" stroke-width="0.9"/>
<line x1="78.80000000000001" y1="246.22" x2="82.0" y2="246.22" stroke="#222" stroke-width="0.9"/>
<line x1="80.4" y1="272.78" x2="80.4" y2="266.14" stroke="#222" stroke-width="0.9"/>
<line x1="78.80000000000001" y1="272.78" x2="82.0" y2="272.78" stroke="#222" stroke-width="0.9"/>
<line x1="78.80000000000001" y1="266.14" x2="82.0" y2="266.14" stroke="#222" stroke-width="0.9"/>
<line x1="208.0" y1="327.975" x2="208.0" y2="306.229" stroke="#222" stroke-width="0.9"/>
<line x1="206.4" y1="327.975" x2="209.6" y2="327.975" stroke="#222" stroke-width="0.9"/>
<line x1="206.4" y1="306.229" x2="209.6" y2="306.229" stroke="#222" stroke-width="0.9"/>
<line x1="208.0" y1="338.35" x2="208.0" y2="334.2" stroke="#222" stroke-width="0.9"/>
<line x1="206.4" y1="338.35" x2="209.6" y2="338.35" stroke="#222" stroke-width="0.9"/>
<line x1="206.4" y1="334.2" x2="209.6" y2="334.2" stroke="#222" stroke-width="0.9"/>
<polyline points="43.75,259.50 80.4,269.63 117.5,338.76 208.0,339.18" fill="none" stroke="#000" stroke-width="1.6" stroke-linejoin="round"/>
<polyline points="43.75,259.50 80.4,242.07 117.5,320.09 208.0,335.53" fill="none" stroke="#c6c6c6" stroke-width="1.6" stroke-linejoin="round"/>
<polyline points="43.75,259.50 80.4,246.22 117.5,298.76 208.0,318.01" fill="none" stroke="#a2a2a2" stroke-width="1.6" stroke-linejoin="round"/>
<polyline points="43.75,259.50 80.4,233.36 117.5,338.35 208.0,341.25" fill="none" stroke="#7a7a7a" stroke-width="1.6" stroke-linejoin="round"/>
<polygon points="43.75,255.9 46.95,259.5 43.75,263.1 40.55,259.5" fill="#000"/>
<polygon points="80.4,266.02599999999995 83.60000000000001,269.626 80.4,273.226 77.2,269.626" fill="#000"/>
<polygon points="117.5,335.16499999999996 120.7,338.765 117.5,342.365 114.3,338.765" fill="#000"/>
<polygon points="208.0,335.58 211.2,339.18 208.0,342.78000000000003 204.8,339.18" fill="#000"/>
<path d="M40.75,259.5 L46.75,259.5 M41.55,256.9 L45.95,262.1 M41.55,262.1 L45.95,256.9 M43.75,256.5 L43.75,262.5" stroke="#c6c6c6" stroke-width="1"/>
<path d="M77.4,242.07 L83.4,242.07 M78.2,239.47 L82.60000000000001,244.67 M78.2,244.67 L82.60000000000001,239.47 M80.4,239.07 L80.4,245.07" stroke="#c6c6c6" stroke-width="1"/>
<path d="M114.5,320.09 L120.5,320.09 M115.3,317.48999999999995 L119.7,322.69 M115.3,322.69 L119.7,317.48999999999995 M117.5,317.09 L117.5,323.09" stroke="#c6c6c6" stroke-width="1"/>
<path d="M205.0,335.528 L211.0,335.528 M205.8,332.928 L210.2,338.12800000000004 M205.8,338.12800000000004 L210.2,332.928 M208.0,332.528 L208.0,338.528" stroke="#c6c6c6" stroke-width="1"/>
<polygon points="43.75,256.1 46.95,261.9 40.55,261.9" fill="#a2a2a2"/>
<polygon points="80.4,242.82 83.60000000000001,248.62 77.2,248.62" fill="#a2a2a2"/>
<polygon points="117.5,295.35900000000004 120.7,301.159 114.3,301.159" fill="#a2a2a2"/>
<polygon points="208.0,314.615 211.2,320.41499999999996 204.8,320.41499999999996" fill="#a2a2a2"/>
<rect x="41.25" y="257.0" width="5" height="5" fill="#7a7a7a"/>
<rect x="77.9" y="230.85500000000002" width="5" height="5" fill="#7a7a7a"/>
<rect x="115.0" y="335.85" width="5" height="5" fill="#7a7a7a"/>
<rect x="205.5" y="338.755" width="5" height="5" fill="#7a7a7a"/>
<line x1="184" y1="254.2" x2="201" y2="254.2" stroke="#000" stroke-width="2"/>
<polygon points="192.5,250.6 195.7,254.2 192.5,257.8 189.3,254.2" fill="#000"/>
<text x="202.00" y="256.70" font-size="7" text-anchor="start" fill="#111" font-weight="normal" >1F3</text>
<line x1="184" y1="266" x2="201" y2="266" stroke="#c6c6c6" stroke-width="1.6"/>
<path d="M189.5,266 L195.5,266 M190.3,263.4 L194.7,268.6 M190.3,268.6 L194.7,263.4 M192.5,263 L192.5,269" stroke="#c6c6c6" stroke-width="1"/>
<text x="202.00" y="268.50" font-size="7" text-anchor="start" fill="#111" font-weight="normal" >1F2</text>
<line x1="184" y1="277.6" x2="201" y2="277.6" stroke="#a2a2a2" stroke-width="1.6"/>
<polygon points="192.5,274.20000000000005 195.7,280.0 189.3,280.0" fill="#a2a2a2"/>
<text x="202.00" y="280.10" font-size="7" text-anchor="start" fill="#111" font-weight="normal" >2A4</text>
<line x1="184" y1="289.6" x2="201" y2="289.6" stroke="#7a7a7a" stroke-width="1.6"/>
<rect x="190.0" y="287.1" width="5" height="5" fill="#7a7a7a"/>
<text x="202.00" y="292.10" font-size="7" text-anchor="start" fill="#111" font-weight="normal" >2A5</text>
<rect x="301.25" y="226.25" width="179.5" height="116.25" fill="none" stroke="#8a8a8a" stroke-width="1"/>
<text x="298.00" y="345.00" font-size="7" text-anchor="end" fill="#111" font-weight="normal" >0</text>
<text x="298.00" y="328.40" font-size="7" text-anchor="end" fill="#111" font-weight="normal" >20</text>
<text x="298.00" y="311.80" font-size="7" text-anchor="end" fill="#111" font-weight="normal" >40</text>
<text x="298.00" y="295.20" font-size="7" text-anchor="end" fill="#111" font-weight="normal" >60</text>
<text x="298.00" y="278.60" font-size="7" text-anchor="end" fill="#111" font-weight="normal" >80</text>
<text x="298.00" y="262.00" font-size="7" text-anchor="end" fill="#111" font-weight="normal" >100</text>
<text x="298.00" y="245.40" font-size="7" text-anchor="end" fill="#111" font-weight="normal" >120</text>
<text x="298.00" y="228.80" font-size="7" text-anchor="end" fill="#111" font-weight="normal" >140</text>
<text x="302.50" y="351.60" font-size="7" text-anchor="middle" fill="#111" font-weight="normal" >d0</text>
<text x="373.75" y="351.60" font-size="7" text-anchor="middle" fill="#111" font-weight="normal" >d5</text>
<text x="465.50" y="351.60" font-size="7" text-anchor="middle" fill="#111" font-weight="normal" >d10</text>
<text x="389.00" y="369.50" font-size="7.3" text-anchor="middle" fill="#111" font-weight="normal" >time after transduction</text>
<text transform="translate(276.3,283.1) rotate(-90)" font-size="6.85" text-anchor="middle" fill="#111">Viability / control (%)</text>
<text x="477.50" y="241.40" font-size="7.2" text-anchor="end" fill="#111" font-weight="normal" >(4;11) SEMK2-M1</text>
<line x1="463.0" y1="327.56" x2="463.0" y2="295.522" stroke="#222" stroke-width="0.9"/>
<line x1="461.4" y1="327.56" x2="464.6" y2="327.56" stroke="#222" stroke-width="0.9"/>
<line x1="461.4" y1="295.522" x2="464.6" y2="295.522" stroke="#222" stroke-width="0.9"/>
<line x1="463.0" y1="327.975" x2="463.0" y2="323.742" stroke="#222" stroke-width="0.9"/>
<line x1="461.4" y1="327.975" x2="464.6" y2="327.975" stroke="#222" stroke-width="0.9"/>
<line x1="461.4" y1="323.742" x2="464.6" y2="323.742" stroke="#222" stroke-width="0.9"/>
<line x1="373.75" y1="296.85" x2="373.75" y2="291.04" stroke="#222" stroke-width="0.9"/>
<line x1="372.15" y1="296.85" x2="375.35" y2="296.85" stroke="#222" stroke-width="0.9"/>
<line x1="372.15" y1="291.04" x2="375.35" y2="291.04" stroke="#222" stroke-width="0.9"/>
<line x1="373.75" y1="304.32" x2="373.75" y2="301.0" stroke="#222" stroke-width="0.9"/>
<line x1="372.15" y1="304.32" x2="375.35" y2="304.32" stroke="#222" stroke-width="0.9"/>
<line x1="372.15" y1="301.0" x2="375.35" y2="301.0" stroke="#222" stroke-width="0.9"/>
<polyline points="301.25,259.50 337.5,255.35 373.75,300.75 463.0,323.74" fill="none" stroke="#000" stroke-width="1.6" stroke-linejoin="round"/>
<polyline points="301.25,259.50 337.5,254.52 373.75,298.01 463.0,312.62" fill="none" stroke="#c6c6c6" stroke-width="1.6" stroke-linejoin="round"/>
<polyline points="301.25,259.50 337.5,254.52 373.75,293.70 463.0,310.55" fill="none" stroke="#a2a2a2" stroke-width="1.6" stroke-linejoin="round"/>
<polyline points="301.25,259.50 337.5,249.54 373.75,298.76 463.0,307.97" fill="none" stroke="#7a7a7a" stroke-width="1.6" stroke-linejoin="round"/>
<polygon points="301.25,255.9 304.45,259.5 301.25,263.1 298.05,259.5" fill="#000"/>
<polygon points="337.5,251.75000000000003 340.7,255.35000000000002 337.5,258.95000000000005 334.3,255.35000000000002" fill="#000"/>
<polygon points="373.75,297.15099999999995 376.95,300.751 373.75,304.351 370.55,300.751" fill="#000"/>
<polygon points="463.0,320.142 466.2,323.742 463.0,327.34200000000004 459.8,323.742" fill="#000"/>
<path d="M298.25,259.5 L304.25,259.5 M299.05,256.9 L303.45,262.1 M299.05,262.1 L303.45,256.9 M301.25,256.5 L301.25,262.5" stroke="#c6c6c6" stroke-width="1"/>
<path d="M334.5,254.52 L340.5,254.52 M335.3,251.92000000000002 L339.7,257.12 M335.3,257.12 L339.7,251.92000000000002 M337.5,251.52 L337.5,257.52" stroke="#c6c6c6" stroke-width="1"/>
<path d="M370.75,298.012 L376.75,298.012 M371.55,295.412 L375.95,300.612 M371.55,300.612 L375.95,295.412 M373.75,295.012 L373.75,301.012" stroke="#c6c6c6" stroke-width="1"/>
<path d="M460.0,312.62 L466.0,312.62 M460.8,310.02 L465.2,315.22 M460.8,315.22 L465.2,310.02 M463.0,309.62 L463.0,315.62" stroke="#c6c6c6" stroke-width="1"/>
<polygon points="301.25,256.1 304.45,261.9 298.05,261.9" fill="#a2a2a2"/>
<polygon points="337.5,251.12 340.7,256.92 334.3,256.92" fill="#a2a2a2"/>
<polygon points="373.75,290.29600000000005 376.95,296.096 370.55,296.096" fill="#a2a2a2"/>
<polygon points="463.0,307.14500000000004 466.2,312.945 459.8,312.945" fill="#a2a2a2"/>
<rect x="298.75" y="257.0" width="5" height="5" fill="#7a7a7a"/>
<rect x="335.0" y="247.04000000000002" width="5" height="5" fill="#7a7a7a"/>
<rect x="371.25" y="296.259" width="5" height="5" fill="#7a7a7a"/>
<rect x="460.5" y="305.472" width="5" height="5" fill="#7a7a7a"/>
<line x1="443.75" y1="253.25" x2="460" y2="253.25" stroke="#000" stroke-width="2"/>
<polygon points="451.875,249.65 455.075,253.25 451.875,256.85 448.675,253.25" fill="#000"/>
<text x="461.00" y="255.75" font-size="7" text-anchor="start" fill="#111" font-weight="normal" >1F3</text>
<line x1="443.75" y1="265" x2="460" y2="265" stroke="#c6c6c6" stroke-width="1.6"/>
<path d="M448.875,265 L454.875,265 M449.675,262.4 L454.075,267.6 M449.675,267.6 L454.075,262.4 M451.875,262 L451.875,268" stroke="#c6c6c6" stroke-width="1"/>
<text x="461.00" y="267.50" font-size="7" text-anchor="start" fill="#111" font-weight="normal" >1F2</text>
<line x1="443.75" y1="276.75" x2="460" y2="276.75" stroke="#a2a2a2" stroke-width="1.6"/>
<polygon points="451.875,273.35 455.075,279.15 448.675,279.15" fill="#a2a2a2"/>
<text x="461.00" y="279.25" font-size="7" text-anchor="start" fill="#111" font-weight="normal" >2A4</text>
<line x1="443.75" y1="288.75" x2="460" y2="288.75" stroke="#7a7a7a" stroke-width="1.6"/>
<rect x="449.375" y="286.25" width="5" height="5" fill="#7a7a7a"/>
<text x="461.00" y="291.25" font-size="7" text-anchor="start" fill="#111" font-weight="normal" >2A5</text>
<text x="1.90" y="408.60" font-size="19.6" text-anchor="start" fill="#000" font-weight="bold" >C</text>
<rect x="43.75" y="413.75" width="185.25" height="120.25" fill="none" stroke="#9a9a9a" stroke-width="1"/>
<text x="41.30" y="536.00" font-size="6.9" text-anchor="end" fill="#111" font-weight="normal" >0</text>
<text x="41.30" y="518.74" font-size="6.9" text-anchor="end" fill="#111" font-weight="normal" >1</text>
<text x="41.30" y="501.48" font-size="6.9" text-anchor="end" fill="#111" font-weight="normal" >2</text>
<text x="41.30" y="484.22" font-size="6.9" text-anchor="end" fill="#111" font-weight="normal" >3</text>
<text x="41.30" y="466.96" font-size="6.9" text-anchor="end" fill="#111" font-weight="normal" >4</text>
<text x="41.30" y="449.70" font-size="6.9" text-anchor="end" fill="#111" font-weight="normal" >5</text>
<text x="41.30" y="432.44" font-size="6.9" text-anchor="end" fill="#111" font-weight="normal" >6</text>
<text x="41.30" y="415.18" font-size="6.9" text-anchor="end" fill="#111" font-weight="normal" >7</text>
<text transform="translate(21.4,473.4) rotate(-90)" font-size="7.45" text-anchor="middle" fill="#111">fold RNA expression / control</text>
<rect x="62.3" y="517.50" width="25.400000000000006" height="16.25" fill="#bababa" stroke="#1a1a1a" stroke-width="1"/>
<line x1="75.0" y1="517.50" x2="75.0" y2="516.19" stroke="#111" stroke-width="0.9"/>
<line x1="73.5" y1="516.19" x2="76.5" y2="516.19" stroke="#111" stroke-width="0.9"/>
<rect x="124.3" y="519.22" width="25.200000000000003" height="14.53" fill="#bababa" stroke="#1a1a1a" stroke-width="1"/>
<line x1="136.9" y1="519.22" x2="136.9" y2="517.90" stroke="#111" stroke-width="0.9"/>
<line x1="135.4" y1="517.90" x2="138.4" y2="517.90" stroke="#111" stroke-width="0.9"/>
<rect x="186.2" y="436.45" width="25.400000000000006" height="97.30" fill="#bababa" stroke="#1a1a1a" stroke-width="1"/>
<line x1="198.89999999999998" y1="436.45" x2="198.89999999999998" y2="432.23" stroke="#111" stroke-width="0.9"/>
<line x1="197.39999999999998" y1="432.23" x2="200.39999999999998" y2="432.23" stroke="#111" stroke-width="0.9"/>
<text x="75.00" y="541.80" font-size="6.6" text-anchor="middle" fill="#111" font-weight="normal" letter-spacing="1.7">MOLM</text>
<text x="137.00" y="541.80" font-size="6.6" text-anchor="middle" fill="#111" font-weight="normal" letter-spacing="1.5">MOLM-MIG</text>
<text x="164.50" y="541.80" font-size="6.6" text-anchor="start" fill="#111" font-weight="normal" letter-spacing="1.5">MOLM-MIG</text>
<text x="233.80" y="541.80" font-size="6.6" text-anchor="end" fill="#111" font-weight="normal" letter-spacing="0.3">HOXA9</text>
<text x="63.40" y="428.10" font-size="5.7" text-anchor="middle" fill="#111" font-weight="normal" >MOLM</text>
<text x="88.90" y="428.10" font-size="5.7" text-anchor="middle" fill="#111" font-weight="normal" >MOLM-</text>
<text x="88.90" y="434.90" font-size="5.7" text-anchor="middle" fill="#111" font-weight="normal" >MIG</text>
<text x="116.90" y="428.10" font-size="5.7" text-anchor="middle" fill="#111" font-weight="normal" >MOLM-MIG</text>
<text x="116.90" y="434.90" font-size="5.7" text-anchor="middle" fill="#111" font-weight="normal" >HOXA9</text>
<text x="134.50" y="452.60" font-size="7.1" text-anchor="start" fill="#111" font-weight="normal" >HOXA9</text>
<text x="132.50" y="472.10" font-size="7.1" text-anchor="start" fill="#111" font-weight="normal" >Actin</text>
<g filter="url(#blur05)">
<rect x="55.7" y="450.1" width="17.2" height="2.0" rx="1.0" fill="#6e6e6e"/>
<rect x="81" y="449.8" width="17.2" height="2.6" rx="1.3" fill="#1e1e1e"/>
<rect x="104.7" y="447.4" width="21.3" height="6.6" rx="3.3" fill="#000"/>
<rect x="54.1" y="468.1" width="24.6" height="4.2" rx="2.1" fill="#000"/>
<rect x="77.6" y="467.8" width="27.8" height="4.8" rx="2.4" fill="#000"/>
<rect x="104.6" y="468.2" width="23" height="4.0" rx="2.0" fill="#000"/>
</g>
<g filter="url(#blur1)" opacity="0.55">
<path d="M56,455 L60,459 M63,455 L64,459 M70,455 L71,459" stroke="#aaa" stroke-width="1.2"/>
<rect x="84" y="455" width="12" height="2" fill="#ccc"/>
<rect x="54" y="474" width="74" height="2" fill="#bbb"/>
<rect x="56" y="465" width="70" height="1.6" fill="#ccc"/>
</g>
<text x="248.90" y="408.10" font-size="18.5" text-anchor="start" fill="#000" font-weight="bold" >D</text>
<rect x="299.25" y="413.5" width="183.05" height="120.79999999999995" fill="none" stroke="#9a9a9a" stroke-width="1"/>
<text x="297.10" y="535.75" font-size="7" text-anchor="end" fill="#111" font-weight="normal" letter-spacing="0.6">0</text>
<text x="297.10" y="515.75" font-size="7" text-anchor="end" fill="#111" font-weight="normal" letter-spacing="0.6">200</text>
<text x="297.10" y="495.75" font-size="7" text-anchor="end" fill="#111" font-weight="normal" letter-spacing="0.6">400</text>
<text x="297.10" y="475.75" font-size="7" text-anchor="end" fill="#111" font-weight="normal" letter-spacing="0.6">600</text>
<text x="297.10" y="455.75" font-size="7" text-anchor="end" fill="#111" font-weight="normal" letter-spacing="0.6">800</text>
<text x="297.10" y="435.75" font-size="7" text-anchor="end" fill="#111" font-weight="normal" letter-spacing="0.6">1000</text>
<text x="297.10" y="415.75" font-size="7" text-anchor="end" fill="#111" font-weight="normal" letter-spacing="0.6">1200</text>
<text transform="translate(276.6,470.7) rotate(-90)" font-size="7.4" text-anchor="middle" fill="#111">total # viable cells</text>
<rect x="318.75" y="483.05" width="26.25" height="50.70" fill="#bdbdbd" stroke="#111" stroke-width="1"/>
<line x1="331.88" y1="483.05" x2="331.88" y2="472.45" stroke="#111" stroke-width="0.9"/>
<line x1="330.38" y1="472.45" x2="333.38" y2="472.45" stroke="#111" stroke-width="0.9"/>
<rect x="345" y="523.75" width="26.10" height="10.00" fill="#000" stroke="#111" stroke-width="1"/>
<line x1="358.05" y1="523.75" x2="358.05" y2="520.75" stroke="#111" stroke-width="0.9"/>
<line x1="356.55" y1="520.75" x2="359.55" y2="520.75" stroke="#111" stroke-width="0.9"/>
<rect x="410.3" y="452.25" width="26.50" height="81.50" fill="#bdbdbd" stroke="#111" stroke-width="1"/>
<line x1="423.55" y1="452.25" x2="423.55" y2="424.45" stroke="#111" stroke-width="0.9"/>
<line x1="422.05" y1="424.45" x2="425.05" y2="424.45" stroke="#111" stroke-width="0.9"/>
<rect x="436.8" y="469.65" width="25.90" height="64.10" fill="#000" stroke="#111" stroke-width="1"/>
<line x1="449.75" y1="469.65" x2="449.75" y2="446.25" stroke="#111" stroke-width="0.9"/>
<line x1="448.25" y1="446.25" x2="451.25" y2="446.25" stroke="#111" stroke-width="0.9"/>
<rect x="311.6" y="425.4" width="5.6" height="5.2" fill="#bdbdbd" stroke="#111" stroke-width="0.9"/>
<rect x="311.6" y="435.8" width="5.6" height="5.2" fill="#000"/>
<text x="320.80" y="430.50" font-size="7.4" text-anchor="start" fill="#111" font-weight="normal" >ControlshRNA</text>
<text x="320.80" y="441.00" font-size="7.4" text-anchor="start" fill="#111" font-weight="normal" >2A4-HOXA9shRNA</text>
<text x="344.10" y="542.50" font-size="7.1" text-anchor="middle" fill="#111" font-weight="normal" letter-spacing="0.35">MOLM-MIG</text>
<text x="438.90" y="542.50" font-size="7.3" text-anchor="middle" fill="#111" font-weight="normal" >MOLM-MIGHOXA9</text>
</svg>
</body></html>
